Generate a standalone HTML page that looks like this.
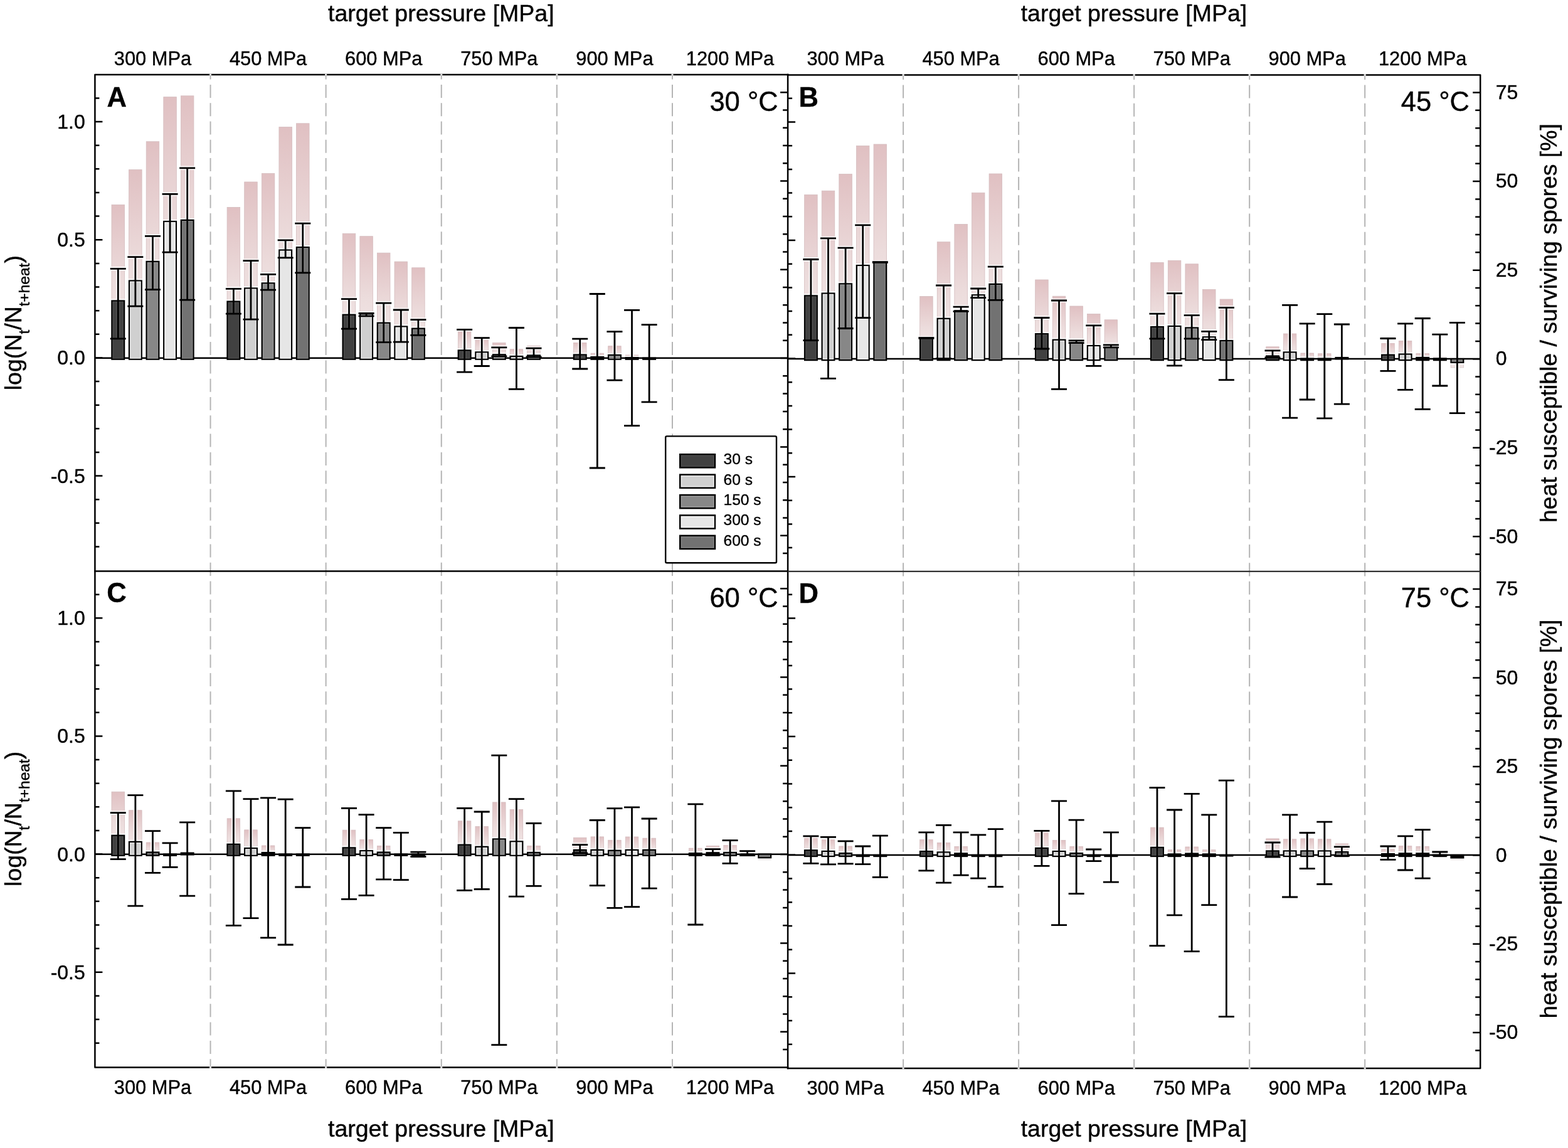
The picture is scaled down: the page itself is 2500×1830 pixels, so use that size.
<!DOCTYPE html>
<html><head><meta charset="utf-8"><title>figure</title><style>html,body{margin:0;padding:0;background:#fff;}svg{display:block;}</style></head><body>
<svg width="2500" height="1830" viewBox="0 0 2500 1830" font-family="'Liberation Sans', Arial, Helvetica, sans-serif">
<defs><linearGradient id="pk" x1="0" y1="0" x2="0" y2="1"><stop offset="0" stop-color="#e0c0c2"/><stop offset="0.5" stop-color="#ecdcdc"/><stop offset="1" stop-color="#f5eded"/></linearGradient><linearGradient id="pkn" x1="0" y1="0" x2="0" y2="1"><stop offset="0" stop-color="#f8f0f0"/><stop offset="1" stop-color="#f0e4e4"/></linearGradient></defs>
<rect x="0" y="0" width="2500" height="1830" fill="#fff"/>
<line x1="335.52" y1="119.1" x2="335.52" y2="910.6" stroke="#b4b4b4" stroke-width="2" stroke-dasharray="21 8.3" stroke-dashoffset="13.5"/>
<line x1="519.63" y1="119.1" x2="519.63" y2="910.6" stroke="#b4b4b4" stroke-width="2" stroke-dasharray="21 8.3" stroke-dashoffset="13.5"/>
<line x1="703.75" y1="119.1" x2="703.75" y2="910.6" stroke="#b4b4b4" stroke-width="2" stroke-dasharray="21 8.3" stroke-dashoffset="13.5"/>
<line x1="887.87" y1="119.1" x2="887.87" y2="910.6" stroke="#b4b4b4" stroke-width="2" stroke-dasharray="21 8.3" stroke-dashoffset="13.5"/>
<line x1="1071.98" y1="119.1" x2="1071.98" y2="910.6" stroke="#b4b4b4" stroke-width="2" stroke-dasharray="21 8.3" stroke-dashoffset="13.5"/>
<line x1="1440.12" y1="119.6" x2="1440.12" y2="910.9" stroke="#b4b4b4" stroke-width="2" stroke-dasharray="21 8.3" stroke-dashoffset="13.5"/>
<line x1="1624.13" y1="119.6" x2="1624.13" y2="910.9" stroke="#b4b4b4" stroke-width="2" stroke-dasharray="21 8.3" stroke-dashoffset="13.5"/>
<line x1="1808.15" y1="119.6" x2="1808.15" y2="910.9" stroke="#b4b4b4" stroke-width="2" stroke-dasharray="21 8.3" stroke-dashoffset="13.5"/>
<line x1="1992.17" y1="119.6" x2="1992.17" y2="910.9" stroke="#b4b4b4" stroke-width="2" stroke-dasharray="21 8.3" stroke-dashoffset="13.5"/>
<line x1="2176.18" y1="119.6" x2="2176.18" y2="910.9" stroke="#b4b4b4" stroke-width="2" stroke-dasharray="21 8.3" stroke-dashoffset="13.5"/>
<line x1="335.52" y1="910.6" x2="335.52" y2="1701.5" stroke="#b4b4b4" stroke-width="2" stroke-dasharray="21 8.3" stroke-dashoffset="13.5"/>
<line x1="519.63" y1="910.6" x2="519.63" y2="1701.5" stroke="#b4b4b4" stroke-width="2" stroke-dasharray="21 8.3" stroke-dashoffset="13.5"/>
<line x1="703.75" y1="910.6" x2="703.75" y2="1701.5" stroke="#b4b4b4" stroke-width="2" stroke-dasharray="21 8.3" stroke-dashoffset="13.5"/>
<line x1="887.87" y1="910.6" x2="887.87" y2="1701.5" stroke="#b4b4b4" stroke-width="2" stroke-dasharray="21 8.3" stroke-dashoffset="13.5"/>
<line x1="1071.98" y1="910.6" x2="1071.98" y2="1701.5" stroke="#b4b4b4" stroke-width="2" stroke-dasharray="21 8.3" stroke-dashoffset="13.5"/>
<line x1="1440.12" y1="910.9" x2="1440.12" y2="1702.9" stroke="#b4b4b4" stroke-width="2" stroke-dasharray="21 8.3" stroke-dashoffset="13.5"/>
<line x1="1624.13" y1="910.9" x2="1624.13" y2="1702.9" stroke="#b4b4b4" stroke-width="2" stroke-dasharray="21 8.3" stroke-dashoffset="13.5"/>
<line x1="1808.15" y1="910.9" x2="1808.15" y2="1702.9" stroke="#b4b4b4" stroke-width="2" stroke-dasharray="21 8.3" stroke-dashoffset="13.5"/>
<line x1="1992.17" y1="910.9" x2="1992.17" y2="1702.9" stroke="#b4b4b4" stroke-width="2" stroke-dasharray="21 8.3" stroke-dashoffset="13.5"/>
<line x1="2176.18" y1="910.9" x2="2176.18" y2="1702.9" stroke="#b4b4b4" stroke-width="2" stroke-dasharray="21 8.3" stroke-dashoffset="13.5"/>
<g><rect x="178.01" y="326.4" width="20.5" height="244.3" fill="url(#pk)" stroke="#d4bcbe" stroke-width="0.8"/><rect x="205.61" y="270.5" width="20.5" height="300.2" fill="url(#pk)" stroke="#d4bcbe" stroke-width="0.8"/><rect x="233.21" y="225.7" width="20.5" height="345" fill="url(#pk)" stroke="#d4bcbe" stroke-width="0.8"/><rect x="260.81" y="154.6" width="20.5" height="416.1" fill="url(#pk)" stroke="#d4bcbe" stroke-width="0.8"/><rect x="288.41" y="152.8" width="20.5" height="417.9" fill="url(#pk)" stroke="#d4bcbe" stroke-width="0.8"/><rect x="362.12" y="330.4" width="20.5" height="240.3" fill="url(#pk)" stroke="#d4bcbe" stroke-width="0.8"/><rect x="389.72" y="290" width="20.5" height="280.7" fill="url(#pk)" stroke="#d4bcbe" stroke-width="0.8"/><rect x="417.32" y="276.6" width="20.5" height="294.1" fill="url(#pk)" stroke="#d4bcbe" stroke-width="0.8"/><rect x="444.92" y="202.4" width="20.5" height="368.3" fill="url(#pk)" stroke="#d4bcbe" stroke-width="0.8"/><rect x="472.52" y="196.8" width="20.5" height="373.9" fill="url(#pk)" stroke="#d4bcbe" stroke-width="0.8"/><rect x="546.24" y="372.3" width="20.5" height="198.4" fill="url(#pk)" stroke="#d4bcbe" stroke-width="0.8"/><rect x="573.84" y="376.7" width="20.5" height="194" fill="url(#pk)" stroke="#d4bcbe" stroke-width="0.8"/><rect x="601.44" y="403.2" width="20.5" height="167.5" fill="url(#pk)" stroke="#d4bcbe" stroke-width="0.8"/><rect x="629.04" y="417.1" width="20.5" height="153.6" fill="url(#pk)" stroke="#d4bcbe" stroke-width="0.8"/><rect x="656.64" y="426.8" width="20.5" height="143.9" fill="url(#pk)" stroke="#d4bcbe" stroke-width="0.8"/><rect x="730.36" y="528.5" width="20.5" height="42.2" fill="url(#pk)" stroke="#d4bcbe" stroke-width="0.8"/><rect x="757.96" y="539.8" width="20.5" height="30.9" fill="url(#pk)" stroke="#d4bcbe" stroke-width="0.8"/><rect x="785.56" y="546.6" width="20.5" height="24.1" fill="url(#pk)" stroke="#d4bcbe" stroke-width="0.8"/><rect x="813.16" y="556.8" width="20.5" height="13.9" fill="url(#pk)" stroke="#d4bcbe" stroke-width="0.8"/><rect x="840.76" y="551.3" width="20.5" height="19.4" fill="url(#pk)" stroke="#d4bcbe" stroke-width="0.8"/><rect x="914.47" y="546.4" width="20.5" height="24.3" fill="url(#pk)" stroke="#d4bcbe" stroke-width="0.8"/><rect x="942.07" y="563.2" width="20.5" height="7.5" fill="url(#pk)" stroke="#d4bcbe" stroke-width="0.8"/><rect x="969.67" y="551.7" width="20.5" height="19" fill="url(#pk)" stroke="#d4bcbe" stroke-width="0.8"/><rect x="997.27" y="566" width="20.5" height="4.7" fill="url(#pk)" stroke="#d4bcbe" stroke-width="0.8"/></g>
<g><rect x="178.41" y="479.5" width="19.7" height="93.2" fill="none" stroke="#fff" stroke-width="5.9"/><path d="M175.76 428.3H200.76M188.26 428.3V539.9M175.76 539.9H200.76" stroke="#fff" stroke-opacity="0.85" stroke-width="6.4" fill="none"/><rect x="206.01" y="447.5" width="19.7" height="125.2" fill="none" stroke="#fff" stroke-width="5.9"/><path d="M203.36 409.7H228.36M215.86 409.7V488.2M203.36 488.2H228.36" stroke="#fff" stroke-opacity="0.85" stroke-width="6.4" fill="none"/><rect x="233.61" y="416.9" width="19.7" height="155.8" fill="none" stroke="#fff" stroke-width="5.9"/><path d="M230.96 376.4H255.96M243.46 376.4V461.6M230.96 461.6H255.96" stroke="#fff" stroke-opacity="0.85" stroke-width="6.4" fill="none"/><rect x="261.21" y="353" width="19.7" height="219.7" fill="none" stroke="#fff" stroke-width="5.9"/><path d="M258.56 309.3H283.56M271.06 309.3V402.2M258.56 402.2H283.56" stroke="#fff" stroke-opacity="0.85" stroke-width="6.4" fill="none"/><rect x="288.81" y="350.9" width="19.7" height="221.8" fill="none" stroke="#fff" stroke-width="5.9"/><path d="M286.16 267.8H311.16M298.66 267.8V478.1M286.16 478.1H311.16" stroke="#fff" stroke-opacity="0.85" stroke-width="6.4" fill="none"/><rect x="362.52" y="480.6" width="19.7" height="92.1" fill="none" stroke="#fff" stroke-width="5.9"/><path d="M359.87 460.3H384.87M372.37 460.3V500.2M359.87 500.2H384.87" stroke="#fff" stroke-opacity="0.85" stroke-width="6.4" fill="none"/><rect x="390.12" y="459.5" width="19.7" height="113.2" fill="none" stroke="#fff" stroke-width="5.9"/><path d="M387.47 415.6H412.47M399.97 415.6V509.1M387.47 509.1H412.47" stroke="#fff" stroke-opacity="0.85" stroke-width="6.4" fill="none"/><rect x="417.72" y="451.4" width="19.7" height="121.3" fill="none" stroke="#fff" stroke-width="5.9"/><path d="M415.07 437.4H440.07M427.57 437.4V462.1M415.07 462.1H440.07" stroke="#fff" stroke-opacity="0.85" stroke-width="6.4" fill="none"/><rect x="445.32" y="398.6" width="19.7" height="174.1" fill="none" stroke="#fff" stroke-width="5.9"/><path d="M442.67 382.8H467.67M455.17 382.8V410.8M442.67 410.8H467.67" stroke="#fff" stroke-opacity="0.85" stroke-width="6.4" fill="none"/><rect x="472.92" y="394.2" width="19.7" height="178.5" fill="none" stroke="#fff" stroke-width="5.9"/><path d="M470.27 356.1H495.27M482.77 356.1V434.9M470.27 434.9H495.27" stroke="#fff" stroke-opacity="0.85" stroke-width="6.4" fill="none"/><rect x="546.64" y="501.7" width="19.7" height="71" fill="none" stroke="#fff" stroke-width="5.9"/><path d="M543.99 476.7H568.99M556.49 476.7V524.2M543.99 524.2H568.99" stroke="#fff" stroke-opacity="0.85" stroke-width="6.4" fill="none"/><rect x="574.24" y="500.6" width="19.7" height="72.1" fill="none" stroke="#fff" stroke-width="5.9"/><path d="M571.59 499.5H596.59M584.09 499.5V503.8M571.59 503.8H596.59" stroke="#fff" stroke-opacity="0.85" stroke-width="6.4" fill="none"/><rect x="601.84" y="514.7" width="19.7" height="58" fill="none" stroke="#fff" stroke-width="5.9"/><path d="M599.19 483.2H624.19M611.69 483.2V545.7M599.19 545.7H624.19" stroke="#fff" stroke-opacity="0.85" stroke-width="6.4" fill="none"/><rect x="629.44" y="520.5" width="19.7" height="52.2" fill="none" stroke="#fff" stroke-width="5.9"/><path d="M626.79 494H651.79M639.29 494V545.2M626.79 545.2H651.79" stroke="#fff" stroke-opacity="0.85" stroke-width="6.4" fill="none"/><rect x="657.04" y="523.7" width="19.7" height="49" fill="none" stroke="#fff" stroke-width="5.9"/><path d="M654.39 509.6H679.39M666.89 509.6V534.3M654.39 534.3H679.39" stroke="#fff" stroke-opacity="0.85" stroke-width="6.4" fill="none"/><rect x="730.76" y="558.5" width="19.7" height="14.2" fill="none" stroke="#fff" stroke-width="5.9"/><path d="M728.11 525.4H753.11M740.61 525.4V593.2M728.11 593.2H753.11" stroke="#fff" stroke-opacity="0.85" stroke-width="6.4" fill="none"/><rect x="758.36" y="561.4" width="19.7" height="11.3" fill="none" stroke="#fff" stroke-width="5.9"/><path d="M755.71 538.6H780.71M768.21 538.6V583.5M755.71 583.5H780.71" stroke="#fff" stroke-opacity="0.85" stroke-width="6.4" fill="none"/><rect x="785.96" y="565.3" width="19.7" height="7.4" fill="none" stroke="#fff" stroke-width="5.9"/><path d="M783.31 553.8H808.31M795.81 553.8V567.8M783.31 567.8H808.31" stroke="#fff" stroke-opacity="0.85" stroke-width="6.4" fill="none"/><rect x="813.56" y="568" width="19.7" height="4.7" fill="none" stroke="#fff" stroke-width="5.9"/><path d="M810.91 522.5H835.91M823.41 522.5V620.3M810.91 620.3H835.91" stroke="#fff" stroke-opacity="0.85" stroke-width="6.4" fill="none"/><rect x="841.16" y="566.5" width="19.7" height="6.2" fill="none" stroke="#fff" stroke-width="5.9"/><path d="M838.51 555.1H863.51M851.01 555.1V569M838.51 569H863.51" stroke="#fff" stroke-opacity="0.85" stroke-width="6.4" fill="none"/><rect x="914.87" y="565.5" width="19.7" height="7.2" fill="none" stroke="#fff" stroke-width="5.9"/><path d="M912.22 540.2H937.22M924.72 540.2V588M912.22 588H937.22" stroke="#fff" stroke-opacity="0.85" stroke-width="6.4" fill="none"/><rect x="942.47" y="569" width="19.7" height="3.7" fill="none" stroke="#fff" stroke-width="5.9"/><path d="M939.82 468.5H964.82M952.32 468.5V746M939.82 746H964.82" stroke="#fff" stroke-opacity="0.85" stroke-width="6.4" fill="none"/><rect x="970.07" y="566" width="19.7" height="6.7" fill="none" stroke="#fff" stroke-width="5.9"/><path d="M967.42 528.7H992.42M979.92 528.7V606.2M967.42 606.2H992.42" stroke="#fff" stroke-opacity="0.85" stroke-width="6.4" fill="none"/><rect x="997.67" y="570.2" width="19.7" height="2.5" fill="none" stroke="#fff" stroke-width="5.9"/><path d="M995.02 494.3H1020.02M1007.52 494.3V678.6M995.02 678.6H1020.02" stroke="#fff" stroke-opacity="0.85" stroke-width="6.4" fill="none"/><rect x="1025.27" y="570.7" width="19.7" height="2" fill="none" stroke="#fff" stroke-width="5.9"/><path d="M1022.62 517.7H1047.62M1035.12 517.7V640.9M1022.62 640.9H1047.62" stroke="#fff" stroke-opacity="0.85" stroke-width="6.4" fill="none"/></g>
<line x1="151.4" y1="570.7" x2="1256.1" y2="570.7" stroke="#000" stroke-width="2.5"/>
<g><rect x="178.41" y="479.5" width="19.7" height="93.2" fill="#414141" stroke="#000" stroke-width="2.3"/><rect x="180.16" y="481.25" width="16.2" height="89.7" fill="none" stroke="#4d4d4d" stroke-width="1.1"/><rect x="206.01" y="447.5" width="19.7" height="125.2" fill="#d0d0d0" stroke="#000" stroke-width="2.3"/><rect x="207.76" y="449.25" width="16.2" height="121.7" fill="none" stroke="#ececec" stroke-width="1.1"/><rect x="233.61" y="416.9" width="19.7" height="155.8" fill="#878787" stroke="#000" stroke-width="2.3"/><rect x="235.36" y="418.65" width="16.2" height="152.3" fill="none" stroke="#9a9a9a" stroke-width="1.1"/><rect x="261.21" y="353" width="19.7" height="219.7" fill="#e6e6e6" stroke="#000" stroke-width="2.3"/><rect x="262.96" y="354.75" width="16.2" height="216.2" fill="none" stroke="#f6f6f6" stroke-width="1.1"/><rect x="288.81" y="350.9" width="19.7" height="221.8" fill="#727272" stroke="#000" stroke-width="2.3"/><rect x="290.56" y="352.65" width="16.2" height="218.3" fill="none" stroke="#838383" stroke-width="1.1"/><rect x="362.52" y="480.6" width="19.7" height="92.1" fill="#414141" stroke="#000" stroke-width="2.3"/><rect x="364.27" y="482.35" width="16.2" height="88.6" fill="none" stroke="#4d4d4d" stroke-width="1.1"/><rect x="390.12" y="459.5" width="19.7" height="113.2" fill="#d0d0d0" stroke="#000" stroke-width="2.3"/><rect x="391.87" y="461.25" width="16.2" height="109.7" fill="none" stroke="#ececec" stroke-width="1.1"/><rect x="417.72" y="451.4" width="19.7" height="121.3" fill="#878787" stroke="#000" stroke-width="2.3"/><rect x="419.47" y="453.15" width="16.2" height="117.8" fill="none" stroke="#9a9a9a" stroke-width="1.1"/><rect x="445.32" y="398.6" width="19.7" height="174.1" fill="#e6e6e6" stroke="#000" stroke-width="2.3"/><rect x="447.07" y="400.35" width="16.2" height="170.6" fill="none" stroke="#f6f6f6" stroke-width="1.1"/><rect x="472.92" y="394.2" width="19.7" height="178.5" fill="#727272" stroke="#000" stroke-width="2.3"/><rect x="474.67" y="395.95" width="16.2" height="175" fill="none" stroke="#838383" stroke-width="1.1"/><rect x="546.64" y="501.7" width="19.7" height="71" fill="#414141" stroke="#000" stroke-width="2.3"/><rect x="548.39" y="503.45" width="16.2" height="67.5" fill="none" stroke="#4d4d4d" stroke-width="1.1"/><rect x="574.24" y="500.6" width="19.7" height="72.1" fill="#d0d0d0" stroke="#000" stroke-width="2.3"/><rect x="575.99" y="502.35" width="16.2" height="68.6" fill="none" stroke="#ececec" stroke-width="1.1"/><rect x="601.84" y="514.7" width="19.7" height="58" fill="#878787" stroke="#000" stroke-width="2.3"/><rect x="603.59" y="516.45" width="16.2" height="54.5" fill="none" stroke="#9a9a9a" stroke-width="1.1"/><rect x="629.44" y="520.5" width="19.7" height="52.2" fill="#e6e6e6" stroke="#000" stroke-width="2.3"/><rect x="631.19" y="522.25" width="16.2" height="48.7" fill="none" stroke="#f6f6f6" stroke-width="1.1"/><rect x="657.04" y="523.7" width="19.7" height="49" fill="#727272" stroke="#000" stroke-width="2.3"/><rect x="658.79" y="525.45" width="16.2" height="45.5" fill="none" stroke="#838383" stroke-width="1.1"/><rect x="730.76" y="558.5" width="19.7" height="14.2" fill="#414141" stroke="#000" stroke-width="2.3"/><rect x="732.51" y="560.25" width="16.2" height="10.7" fill="none" stroke="#4d4d4d" stroke-width="1.1"/><rect x="758.36" y="561.4" width="19.7" height="11.3" fill="#d0d0d0" stroke="#000" stroke-width="2.3"/><rect x="760.11" y="563.15" width="16.2" height="7.8" fill="none" stroke="#ececec" stroke-width="1.1"/><rect x="785.96" y="565.3" width="19.7" height="7.4" fill="#878787" stroke="#000" stroke-width="2.3"/><rect x="787.71" y="567.05" width="16.2" height="3.9" fill="none" stroke="#9a9a9a" stroke-width="1.1"/><rect x="813.56" y="568" width="19.7" height="4.7" fill="#000" stroke="#000" stroke-width="2.3"/><rect x="815.31" y="569.75" width="16.2" height="1.2" fill="none" stroke="#f6f6f6" stroke-width="1.1"/><rect x="841.16" y="566.5" width="19.7" height="6.2" fill="#727272" stroke="#000" stroke-width="2.3"/><rect x="842.91" y="568.25" width="16.2" height="2.7" fill="none" stroke="#838383" stroke-width="1.1"/><rect x="914.87" y="565.5" width="19.7" height="7.2" fill="#414141" stroke="#000" stroke-width="2.3"/><rect x="916.62" y="567.25" width="16.2" height="3.7" fill="none" stroke="#4d4d4d" stroke-width="1.1"/><rect x="942.47" y="569" width="19.7" height="3.7" fill="#000" stroke="#000" stroke-width="2.3"/><rect x="970.07" y="566" width="19.7" height="6.7" fill="#878787" stroke="#000" stroke-width="2.3"/><rect x="971.82" y="567.75" width="16.2" height="3.2" fill="none" stroke="#9a9a9a" stroke-width="1.1"/><rect x="997.67" y="570.2" width="19.7" height="2.5" fill="#000" stroke="#000" stroke-width="2.3"/><rect x="1025.27" y="570.7" width="19.7" height="2" fill="#000" stroke="#000" stroke-width="2.3"/></g>
<g><path d="M188.26 480.95V539.9" stroke="#fff" stroke-opacity="0.08" stroke-width="6.4" fill="none"/><path d="M215.86 448.95V488.2" stroke="#fff" stroke-opacity="0.08" stroke-width="6.4" fill="none"/><path d="M243.46 418.35V461.6" stroke="#fff" stroke-opacity="0.08" stroke-width="6.4" fill="none"/><path d="M271.06 354.45V402.2" stroke="#fff" stroke-opacity="0.08" stroke-width="6.4" fill="none"/><path d="M298.66 352.35V478.1" stroke="#fff" stroke-opacity="0.08" stroke-width="6.4" fill="none"/><path d="M372.37 482.05V500.2" stroke="#fff" stroke-opacity="0.08" stroke-width="6.4" fill="none"/><path d="M399.97 460.95V509.1" stroke="#fff" stroke-opacity="0.08" stroke-width="6.4" fill="none"/><path d="M427.57 452.85V462.1" stroke="#fff" stroke-opacity="0.08" stroke-width="6.4" fill="none"/><path d="M455.17 400.05V410.8" stroke="#fff" stroke-opacity="0.08" stroke-width="6.4" fill="none"/><path d="M482.77 395.65V434.9" stroke="#fff" stroke-opacity="0.08" stroke-width="6.4" fill="none"/><path d="M556.49 503.15V524.2" stroke="#fff" stroke-opacity="0.08" stroke-width="6.4" fill="none"/><path d="M584.09 502.05V503.8" stroke="#fff" stroke-opacity="0.08" stroke-width="6.4" fill="none"/><path d="M611.69 516.15V545.7" stroke="#fff" stroke-opacity="0.08" stroke-width="6.4" fill="none"/><path d="M639.29 521.95V545.2" stroke="#fff" stroke-opacity="0.08" stroke-width="6.4" fill="none"/><path d="M666.89 525.15V534.3" stroke="#fff" stroke-opacity="0.08" stroke-width="6.4" fill="none"/><path d="M740.61 559.95V571.25" stroke="#fff" stroke-opacity="0.08" stroke-width="6.4" fill="none"/><path d="M768.21 562.85V571.25" stroke="#fff" stroke-opacity="0.08" stroke-width="6.4" fill="none"/><path d="M795.81 566.75V567.8" stroke="#fff" stroke-opacity="0.08" stroke-width="6.4" fill="none"/><path d="M823.41 569.45V571.25" stroke="#fff" stroke-opacity="0.08" stroke-width="6.4" fill="none"/><path d="M851.01 567.95V569" stroke="#fff" stroke-opacity="0.08" stroke-width="6.4" fill="none"/><path d="M924.72 566.95V571.25" stroke="#fff" stroke-opacity="0.08" stroke-width="6.4" fill="none"/><path d="M979.92 567.45V571.25" stroke="#fff" stroke-opacity="0.08" stroke-width="6.4" fill="none"/></g>
<g><path d="M175.76 428.3H200.76M188.26 428.3V539.9M175.76 539.9H200.76" stroke="#000" stroke-width="2.8" fill="none"/><path d="M203.36 409.7H228.36M215.86 409.7V488.2M203.36 488.2H228.36" stroke="#000" stroke-width="2.8" fill="none"/><path d="M230.96 376.4H255.96M243.46 376.4V461.6M230.96 461.6H255.96" stroke="#000" stroke-width="2.8" fill="none"/><path d="M258.56 309.3H283.56M271.06 309.3V402.2M258.56 402.2H283.56" stroke="#000" stroke-width="2.8" fill="none"/><path d="M286.16 267.8H311.16M298.66 267.8V478.1M286.16 478.1H311.16" stroke="#000" stroke-width="2.8" fill="none"/><path d="M359.87 460.3H384.87M372.37 460.3V500.2M359.87 500.2H384.87" stroke="#000" stroke-width="2.8" fill="none"/><path d="M387.47 415.6H412.47M399.97 415.6V509.1M387.47 509.1H412.47" stroke="#000" stroke-width="2.8" fill="none"/><path d="M415.07 437.4H440.07M427.57 437.4V462.1M415.07 462.1H440.07" stroke="#000" stroke-width="2.8" fill="none"/><path d="M442.67 382.8H467.67M455.17 382.8V410.8M442.67 410.8H467.67" stroke="#000" stroke-width="2.8" fill="none"/><path d="M470.27 356.1H495.27M482.77 356.1V434.9M470.27 434.9H495.27" stroke="#000" stroke-width="2.8" fill="none"/><path d="M543.99 476.7H568.99M556.49 476.7V524.2M543.99 524.2H568.99" stroke="#000" stroke-width="2.8" fill="none"/><path d="M571.59 499.5H596.59M584.09 499.5V503.8M571.59 503.8H596.59" stroke="#000" stroke-width="2.8" fill="none"/><path d="M599.19 483.2H624.19M611.69 483.2V545.7M599.19 545.7H624.19" stroke="#000" stroke-width="2.8" fill="none"/><path d="M626.79 494H651.79M639.29 494V545.2M626.79 545.2H651.79" stroke="#000" stroke-width="2.8" fill="none"/><path d="M654.39 509.6H679.39M666.89 509.6V534.3M654.39 534.3H679.39" stroke="#000" stroke-width="2.8" fill="none"/><path d="M728.11 525.4H753.11M740.61 525.4V593.2M728.11 593.2H753.11" stroke="#000" stroke-width="2.8" fill="none"/><path d="M755.71 538.6H780.71M768.21 538.6V583.5M755.71 583.5H780.71" stroke="#000" stroke-width="2.8" fill="none"/><path d="M783.31 553.8H808.31M795.81 553.8V567.8M783.31 567.8H808.31" stroke="#000" stroke-width="2.8" fill="none"/><path d="M810.91 522.5H835.91M823.41 522.5V620.3M810.91 620.3H835.91" stroke="#000" stroke-width="2.8" fill="none"/><path d="M838.51 555.1H863.51M851.01 555.1V569M838.51 569H863.51" stroke="#000" stroke-width="2.8" fill="none"/><path d="M912.22 540.2H937.22M924.72 540.2V588M912.22 588H937.22" stroke="#000" stroke-width="2.8" fill="none"/><path d="M939.82 468.5H964.82M952.32 468.5V746M939.82 746H964.82" stroke="#000" stroke-width="2.8" fill="none"/><path d="M967.42 528.7H992.42M979.92 528.7V606.2M967.42 606.2H992.42" stroke="#000" stroke-width="2.8" fill="none"/><path d="M995.02 494.3H1020.02M1007.52 494.3V678.6M995.02 678.6H1020.02" stroke="#000" stroke-width="2.8" fill="none"/><path d="M1022.62 517.7H1047.62M1035.12 517.7V640.9M1022.62 640.9H1047.62" stroke="#000" stroke-width="2.8" fill="none"/></g>
<g><rect x="1282.66" y="310.5" width="20.5" height="261.6" fill="url(#pk)" stroke="#d4bcbe" stroke-width="0.8"/><rect x="1310.26" y="304.2" width="20.5" height="267.9" fill="url(#pk)" stroke="#d4bcbe" stroke-width="0.8"/><rect x="1337.86" y="277.5" width="20.5" height="294.6" fill="url(#pk)" stroke="#d4bcbe" stroke-width="0.8"/><rect x="1365.46" y="232.5" width="20.5" height="339.6" fill="url(#pk)" stroke="#d4bcbe" stroke-width="0.8"/><rect x="1393.06" y="230" width="20.5" height="342.1" fill="url(#pk)" stroke="#d4bcbe" stroke-width="0.8"/><rect x="1466.67" y="472.5" width="20.5" height="99.6" fill="url(#pk)" stroke="#d4bcbe" stroke-width="0.8"/><rect x="1494.28" y="385.7" width="20.5" height="186.4" fill="url(#pk)" stroke="#d4bcbe" stroke-width="0.8"/><rect x="1521.88" y="357.4" width="20.5" height="214.7" fill="url(#pk)" stroke="#d4bcbe" stroke-width="0.8"/><rect x="1549.47" y="307.3" width="20.5" height="264.8" fill="url(#pk)" stroke="#d4bcbe" stroke-width="0.8"/><rect x="1577.08" y="277" width="20.5" height="295.1" fill="url(#pk)" stroke="#d4bcbe" stroke-width="0.8"/><rect x="1650.69" y="446" width="20.5" height="126.1" fill="url(#pk)" stroke="#d4bcbe" stroke-width="0.8"/><rect x="1678.29" y="472.2" width="20.5" height="99.9" fill="url(#pk)" stroke="#d4bcbe" stroke-width="0.8"/><rect x="1705.89" y="488" width="20.5" height="84.1" fill="url(#pk)" stroke="#d4bcbe" stroke-width="0.8"/><rect x="1733.49" y="500.5" width="20.5" height="71.6" fill="url(#pk)" stroke="#d4bcbe" stroke-width="0.8"/><rect x="1761.09" y="509.8" width="20.5" height="62.3" fill="url(#pk)" stroke="#d4bcbe" stroke-width="0.8"/><rect x="1834.71" y="418.6" width="20.5" height="153.5" fill="url(#pk)" stroke="#d4bcbe" stroke-width="0.8"/><rect x="1862.31" y="415.3" width="20.5" height="156.8" fill="url(#pk)" stroke="#d4bcbe" stroke-width="0.8"/><rect x="1889.91" y="420.8" width="20.5" height="151.3" fill="url(#pk)" stroke="#d4bcbe" stroke-width="0.8"/><rect x="1917.51" y="461.5" width="20.5" height="110.6" fill="url(#pk)" stroke="#d4bcbe" stroke-width="0.8"/><rect x="1945.11" y="477" width="20.5" height="95.1" fill="url(#pk)" stroke="#d4bcbe" stroke-width="0.8"/><rect x="2018.72" y="552.8" width="20.5" height="19.3" fill="url(#pk)" stroke="#d4bcbe" stroke-width="0.8"/><rect x="2046.32" y="532" width="20.5" height="40.1" fill="url(#pk)" stroke="#d4bcbe" stroke-width="0.8"/><rect x="2073.92" y="563" width="20.5" height="9.1" fill="url(#pk)" stroke="#d4bcbe" stroke-width="0.8"/><rect x="2101.52" y="563.8" width="20.5" height="8.3" fill="url(#pk)" stroke="#d4bcbe" stroke-width="0.8"/><rect x="2202.74" y="547.3" width="20.5" height="24.8" fill="url(#pk)" stroke="#d4bcbe" stroke-width="0.8"/><rect x="2230.34" y="543.4" width="20.5" height="28.7" fill="url(#pk)" stroke="#d4bcbe" stroke-width="0.8"/><rect x="2257.94" y="563.5" width="20.5" height="8.6" fill="url(#pk)" stroke="#d4bcbe" stroke-width="0.8"/><rect x="2285.54" y="568.6" width="20.5" height="3.5" fill="url(#pk)" stroke="#d4bcbe" stroke-width="0.8"/><rect x="2313.14" y="572.1" width="20.5" height="13.8" fill="url(#pkn)" stroke="#d6c8c8" stroke-width="0.8"/></g>
<g><rect x="1283.06" y="471.4" width="19.7" height="102.7" fill="none" stroke="#fff" stroke-width="5.9"/><path d="M1280.41 413.5H1305.41M1292.91 413.5V542.6M1280.41 542.6H1305.41" stroke="#fff" stroke-opacity="0.85" stroke-width="6.4" fill="none"/><rect x="1310.66" y="467.6" width="19.7" height="106.5" fill="none" stroke="#fff" stroke-width="5.9"/><path d="M1308.01 379.9H1333.01M1320.51 379.9V603.3M1308.01 603.3H1333.01" stroke="#fff" stroke-opacity="0.85" stroke-width="6.4" fill="none"/><rect x="1338.26" y="452.4" width="19.7" height="121.7" fill="none" stroke="#fff" stroke-width="5.9"/><path d="M1335.61 395.2H1360.61M1348.11 395.2V523.5M1335.61 523.5H1360.61" stroke="#fff" stroke-opacity="0.85" stroke-width="6.4" fill="none"/><rect x="1365.86" y="423.1" width="19.7" height="151" fill="none" stroke="#fff" stroke-width="5.9"/><path d="M1363.21 358.8H1388.21M1375.71 358.8V506.7M1363.21 506.7H1388.21" stroke="#fff" stroke-opacity="0.85" stroke-width="6.4" fill="none"/><rect x="1393.46" y="418" width="19.7" height="156.1" fill="none" stroke="#fff" stroke-width="5.9"/><rect x="1467.08" y="538.9" width="19.7" height="35.2" fill="none" stroke="#fff" stroke-width="5.9"/><rect x="1494.68" y="507.8" width="19.7" height="66.3" fill="none" stroke="#fff" stroke-width="5.9"/><path d="M1492.03 455H1517.03M1504.53 455V571.6M1492.03 571.6H1517.03" stroke="#fff" stroke-opacity="0.85" stroke-width="6.4" fill="none"/><rect x="1522.28" y="495.3" width="19.7" height="78.8" fill="none" stroke="#fff" stroke-width="5.9"/><path d="M1519.62 489.2H1544.62M1532.12 489.2V496.4M1519.62 496.4H1544.62" stroke="#fff" stroke-opacity="0.85" stroke-width="6.4" fill="none"/><rect x="1549.88" y="470.3" width="19.7" height="103.8" fill="none" stroke="#fff" stroke-width="5.9"/><path d="M1547.22 460H1572.22M1559.72 460V474.6M1547.22 474.6H1572.22" stroke="#fff" stroke-opacity="0.85" stroke-width="6.4" fill="none"/><rect x="1577.48" y="452.9" width="19.7" height="121.2" fill="none" stroke="#fff" stroke-width="5.9"/><path d="M1574.83 425.2H1599.83M1587.33 425.2V478.3M1574.83 478.3H1599.83" stroke="#fff" stroke-opacity="0.85" stroke-width="6.4" fill="none"/><rect x="1651.09" y="532.2" width="19.7" height="41.9" fill="none" stroke="#fff" stroke-width="5.9"/><path d="M1648.44 506.5H1673.44M1660.94 506.5V556M1648.44 556H1673.44" stroke="#fff" stroke-opacity="0.85" stroke-width="6.4" fill="none"/><rect x="1678.69" y="541.7" width="19.7" height="32.4" fill="none" stroke="#fff" stroke-width="5.9"/><path d="M1676.04 479H1701.04M1688.54 479V620.4M1676.04 620.4H1701.04" stroke="#fff" stroke-opacity="0.85" stroke-width="6.4" fill="none"/><rect x="1706.29" y="546.6" width="19.7" height="27.5" fill="none" stroke="#fff" stroke-width="5.9"/><path d="M1703.64 542.8H1728.64M1716.14 542.8V546.6M1703.64 546.6H1728.64" stroke="#fff" stroke-opacity="0.85" stroke-width="6.4" fill="none"/><rect x="1733.89" y="551.1" width="19.7" height="23" fill="none" stroke="#fff" stroke-width="5.9"/><path d="M1731.24 518.8H1756.24M1743.74 518.8V583.3M1731.24 583.3H1756.24" stroke="#fff" stroke-opacity="0.85" stroke-width="6.4" fill="none"/><rect x="1761.49" y="553.9" width="19.7" height="20.2" fill="none" stroke="#fff" stroke-width="5.9"/><path d="M1758.84 549.8H1783.84M1771.34 549.8V553.9M1758.84 553.9H1783.84" stroke="#fff" stroke-opacity="0.85" stroke-width="6.4" fill="none"/><rect x="1835.11" y="521" width="19.7" height="53.1" fill="none" stroke="#fff" stroke-width="5.9"/><path d="M1832.46 500.2H1857.46M1844.96 500.2V539.8M1832.46 539.8H1857.46" stroke="#fff" stroke-opacity="0.85" stroke-width="6.4" fill="none"/><rect x="1862.71" y="520" width="19.7" height="54.1" fill="none" stroke="#fff" stroke-width="5.9"/><path d="M1860.06 467.6H1885.06M1872.56 467.6V582.8M1860.06 582.8H1885.06" stroke="#fff" stroke-opacity="0.85" stroke-width="6.4" fill="none"/><rect x="1890.31" y="522.5" width="19.7" height="51.6" fill="none" stroke="#fff" stroke-width="5.9"/><path d="M1887.66 502.6H1912.66M1900.16 502.6V539.8M1887.66 539.8H1912.66" stroke="#fff" stroke-opacity="0.85" stroke-width="6.4" fill="none"/><rect x="1917.91" y="537.3" width="19.7" height="36.8" fill="none" stroke="#fff" stroke-width="5.9"/><path d="M1915.26 528.4H1940.26M1927.76 528.4V541.7M1915.26 541.7H1940.26" stroke="#fff" stroke-opacity="0.85" stroke-width="6.4" fill="none"/><rect x="1945.51" y="543.1" width="19.7" height="31" fill="none" stroke="#fff" stroke-width="5.9"/><path d="M1942.86 490.4H1967.86M1955.36 490.4V605.6M1942.86 605.6H1967.86" stroke="#fff" stroke-opacity="0.85" stroke-width="6.4" fill="none"/><rect x="2019.12" y="567.5" width="19.7" height="6.6" fill="none" stroke="#fff" stroke-width="5.9"/><path d="M2016.47 558.8H2041.47M2028.97 558.8V570M2016.47 570H2041.47" stroke="#fff" stroke-opacity="0.85" stroke-width="6.4" fill="none"/><rect x="2046.72" y="561.5" width="19.7" height="12.6" fill="none" stroke="#fff" stroke-width="5.9"/><path d="M2044.07 486.4H2069.07M2056.57 486.4V666.1M2044.07 666.1H2069.07" stroke="#fff" stroke-opacity="0.85" stroke-width="6.4" fill="none"/><rect x="2074.32" y="571.7" width="19.7" height="2.4" fill="none" stroke="#fff" stroke-width="5.9"/><path d="M2071.67 515.9H2096.67M2084.17 515.9V637M2071.67 637H2096.67" stroke="#fff" stroke-opacity="0.85" stroke-width="6.4" fill="none"/><rect x="2101.92" y="571.7" width="19.7" height="2.4" fill="none" stroke="#fff" stroke-width="5.9"/><path d="M2099.27 500.6H2124.27M2111.77 500.6V666.9M2099.27 666.9H2124.27" stroke="#fff" stroke-opacity="0.85" stroke-width="6.4" fill="none"/><rect x="2129.52" y="570.1" width="19.7" height="2.1" fill="none" stroke="#fff" stroke-width="5.9"/><path d="M2126.87 517H2151.87M2139.37 517V644.1M2126.87 644.1H2151.87" stroke="#fff" stroke-opacity="0.85" stroke-width="6.4" fill="none"/><rect x="2203.14" y="565.7" width="19.7" height="8.4" fill="none" stroke="#fff" stroke-width="5.9"/><path d="M2200.49 539.5H2225.49M2212.99 539.5V591.4M2200.49 591.4H2225.49" stroke="#fff" stroke-opacity="0.85" stroke-width="6.4" fill="none"/><rect x="2230.74" y="564.6" width="19.7" height="9.5" fill="none" stroke="#fff" stroke-width="5.9"/><path d="M2228.09 515.9H2253.09M2240.59 515.9V621.3M2228.09 621.3H2253.09" stroke="#fff" stroke-opacity="0.85" stroke-width="6.4" fill="none"/><rect x="2258.34" y="570" width="19.7" height="4.1" fill="none" stroke="#fff" stroke-width="5.9"/><path d="M2255.69 507.5H2280.69M2268.19 507.5V652.3M2255.69 652.3H2280.69" stroke="#fff" stroke-opacity="0.85" stroke-width="6.4" fill="none"/><rect x="2285.94" y="571.5" width="19.7" height="2.6" fill="none" stroke="#fff" stroke-width="5.9"/><path d="M2283.29 533.2H2308.29M2295.79 533.2V615M2283.29 615H2308.29" stroke="#fff" stroke-opacity="0.85" stroke-width="6.4" fill="none"/><rect x="2313.54" y="572.1" width="19.7" height="5.7" fill="none" stroke="#fff" stroke-width="5.9"/><path d="M2310.89 514.3H2335.89M2323.39 514.3V658.6M2310.89 658.6H2335.89" stroke="#fff" stroke-opacity="0.85" stroke-width="6.4" fill="none"/></g>
<line x1="1256.1" y1="572.1" x2="2360.2" y2="572.1" stroke="#000" stroke-width="2.5"/>
<g><rect x="1283.06" y="471.4" width="19.7" height="102.7" fill="#414141" stroke="#000" stroke-width="2.3"/><rect x="1284.81" y="473.15" width="16.2" height="99.2" fill="none" stroke="#4d4d4d" stroke-width="1.1"/><rect x="1310.66" y="467.6" width="19.7" height="106.5" fill="#d0d0d0" stroke="#000" stroke-width="2.3"/><rect x="1312.41" y="469.35" width="16.2" height="103" fill="none" stroke="#ececec" stroke-width="1.1"/><rect x="1338.26" y="452.4" width="19.7" height="121.7" fill="#878787" stroke="#000" stroke-width="2.3"/><rect x="1340.01" y="454.15" width="16.2" height="118.2" fill="none" stroke="#9a9a9a" stroke-width="1.1"/><rect x="1365.86" y="423.1" width="19.7" height="151" fill="#e6e6e6" stroke="#000" stroke-width="2.3"/><rect x="1367.61" y="424.85" width="16.2" height="147.5" fill="none" stroke="#f6f6f6" stroke-width="1.1"/><rect x="1393.46" y="418" width="19.7" height="156.1" fill="#727272" stroke="#000" stroke-width="2.3"/><rect x="1395.21" y="419.75" width="16.2" height="152.6" fill="none" stroke="#838383" stroke-width="1.1"/><rect x="1467.08" y="538.9" width="19.7" height="35.2" fill="#414141" stroke="#000" stroke-width="2.3"/><rect x="1468.83" y="540.65" width="16.2" height="31.7" fill="none" stroke="#4d4d4d" stroke-width="1.1"/><rect x="1494.68" y="507.8" width="19.7" height="66.3" fill="#d0d0d0" stroke="#000" stroke-width="2.3"/><rect x="1496.43" y="509.55" width="16.2" height="62.8" fill="none" stroke="#ececec" stroke-width="1.1"/><rect x="1522.28" y="495.3" width="19.7" height="78.8" fill="#878787" stroke="#000" stroke-width="2.3"/><rect x="1524.03" y="497.05" width="16.2" height="75.3" fill="none" stroke="#9a9a9a" stroke-width="1.1"/><rect x="1549.88" y="470.3" width="19.7" height="103.8" fill="#e6e6e6" stroke="#000" stroke-width="2.3"/><rect x="1551.62" y="472.05" width="16.2" height="100.3" fill="none" stroke="#f6f6f6" stroke-width="1.1"/><rect x="1577.48" y="452.9" width="19.7" height="121.2" fill="#727272" stroke="#000" stroke-width="2.3"/><rect x="1579.23" y="454.65" width="16.2" height="117.7" fill="none" stroke="#838383" stroke-width="1.1"/><rect x="1651.09" y="532.2" width="19.7" height="41.9" fill="#414141" stroke="#000" stroke-width="2.3"/><rect x="1652.84" y="533.95" width="16.2" height="38.4" fill="none" stroke="#4d4d4d" stroke-width="1.1"/><rect x="1678.69" y="541.7" width="19.7" height="32.4" fill="#d0d0d0" stroke="#000" stroke-width="2.3"/><rect x="1680.44" y="543.45" width="16.2" height="28.9" fill="none" stroke="#ececec" stroke-width="1.1"/><rect x="1706.29" y="546.6" width="19.7" height="27.5" fill="#878787" stroke="#000" stroke-width="2.3"/><rect x="1708.04" y="548.35" width="16.2" height="24" fill="none" stroke="#9a9a9a" stroke-width="1.1"/><rect x="1733.89" y="551.1" width="19.7" height="23" fill="#e6e6e6" stroke="#000" stroke-width="2.3"/><rect x="1735.64" y="552.85" width="16.2" height="19.5" fill="none" stroke="#f6f6f6" stroke-width="1.1"/><rect x="1761.49" y="553.9" width="19.7" height="20.2" fill="#727272" stroke="#000" stroke-width="2.3"/><rect x="1763.24" y="555.65" width="16.2" height="16.7" fill="none" stroke="#838383" stroke-width="1.1"/><rect x="1835.11" y="521" width="19.7" height="53.1" fill="#414141" stroke="#000" stroke-width="2.3"/><rect x="1836.86" y="522.75" width="16.2" height="49.6" fill="none" stroke="#4d4d4d" stroke-width="1.1"/><rect x="1862.71" y="520" width="19.7" height="54.1" fill="#d0d0d0" stroke="#000" stroke-width="2.3"/><rect x="1864.46" y="521.75" width="16.2" height="50.6" fill="none" stroke="#ececec" stroke-width="1.1"/><rect x="1890.31" y="522.5" width="19.7" height="51.6" fill="#878787" stroke="#000" stroke-width="2.3"/><rect x="1892.06" y="524.25" width="16.2" height="48.1" fill="none" stroke="#9a9a9a" stroke-width="1.1"/><rect x="1917.91" y="537.3" width="19.7" height="36.8" fill="#e6e6e6" stroke="#000" stroke-width="2.3"/><rect x="1919.66" y="539.05" width="16.2" height="33.3" fill="none" stroke="#f6f6f6" stroke-width="1.1"/><rect x="1945.51" y="543.1" width="19.7" height="31" fill="#727272" stroke="#000" stroke-width="2.3"/><rect x="1947.26" y="544.85" width="16.2" height="27.5" fill="none" stroke="#838383" stroke-width="1.1"/><rect x="2019.12" y="567.5" width="19.7" height="6.6" fill="#414141" stroke="#000" stroke-width="2.3"/><rect x="2020.87" y="569.25" width="16.2" height="3.1" fill="none" stroke="#4d4d4d" stroke-width="1.1"/><rect x="2046.72" y="561.5" width="19.7" height="12.6" fill="#d0d0d0" stroke="#000" stroke-width="2.3"/><rect x="2048.47" y="563.25" width="16.2" height="9.1" fill="none" stroke="#ececec" stroke-width="1.1"/><rect x="2074.32" y="571.7" width="19.7" height="2.4" fill="#000" stroke="#000" stroke-width="2.3"/><rect x="2101.92" y="571.7" width="19.7" height="2.4" fill="#000" stroke="#000" stroke-width="2.3"/><rect x="2129.52" y="570.1" width="19.7" height="2.1" fill="#000" stroke="#000" stroke-width="2.3"/><rect x="2203.14" y="565.7" width="19.7" height="8.4" fill="#414141" stroke="#000" stroke-width="2.3"/><rect x="2204.89" y="567.45" width="16.2" height="4.9" fill="none" stroke="#4d4d4d" stroke-width="1.1"/><rect x="2230.74" y="564.6" width="19.7" height="9.5" fill="#d0d0d0" stroke="#000" stroke-width="2.3"/><rect x="2232.49" y="566.35" width="16.2" height="6" fill="none" stroke="#ececec" stroke-width="1.1"/><rect x="2258.34" y="570" width="19.7" height="4.1" fill="#000" stroke="#000" stroke-width="2.3"/><rect x="2285.94" y="571.5" width="19.7" height="2.6" fill="#000" stroke="#000" stroke-width="2.3"/><rect x="2313.54" y="572.1" width="19.7" height="5.7" fill="#727272" stroke="#000" stroke-width="2.3"/><rect x="2315.29" y="573.85" width="16.2" height="2.2" fill="none" stroke="#838383" stroke-width="1.1"/></g>
<g><path d="M1292.91 472.85V542.6" stroke="#fff" stroke-opacity="0.08" stroke-width="6.4" fill="none"/><path d="M1320.51 469.05V572.65" stroke="#fff" stroke-opacity="0.08" stroke-width="6.4" fill="none"/><path d="M1348.11 453.85V523.5" stroke="#fff" stroke-opacity="0.08" stroke-width="6.4" fill="none"/><path d="M1375.71 424.55V506.7" stroke="#fff" stroke-opacity="0.08" stroke-width="6.4" fill="none"/><path d="M1504.53 509.25V571.6" stroke="#fff" stroke-opacity="0.08" stroke-width="6.4" fill="none"/><path d="M1559.72 471.75V474.6" stroke="#fff" stroke-opacity="0.08" stroke-width="6.4" fill="none"/><path d="M1587.33 454.35V478.3" stroke="#fff" stroke-opacity="0.08" stroke-width="6.4" fill="none"/><path d="M1660.94 533.65V556" stroke="#fff" stroke-opacity="0.08" stroke-width="6.4" fill="none"/><path d="M1688.54 543.15V572.65" stroke="#fff" stroke-opacity="0.08" stroke-width="6.4" fill="none"/><path d="M1743.74 552.55V572.65" stroke="#fff" stroke-opacity="0.08" stroke-width="6.4" fill="none"/><path d="M1844.96 522.45V539.8" stroke="#fff" stroke-opacity="0.08" stroke-width="6.4" fill="none"/><path d="M1872.56 521.45V572.65" stroke="#fff" stroke-opacity="0.08" stroke-width="6.4" fill="none"/><path d="M1900.16 523.95V539.8" stroke="#fff" stroke-opacity="0.08" stroke-width="6.4" fill="none"/><path d="M1927.76 538.75V541.7" stroke="#fff" stroke-opacity="0.08" stroke-width="6.4" fill="none"/><path d="M1955.36 544.55V572.65" stroke="#fff" stroke-opacity="0.08" stroke-width="6.4" fill="none"/><path d="M2028.97 568.95V570" stroke="#fff" stroke-opacity="0.08" stroke-width="6.4" fill="none"/><path d="M2056.57 562.95V572.65" stroke="#fff" stroke-opacity="0.08" stroke-width="6.4" fill="none"/><path d="M2212.99 567.15V572.65" stroke="#fff" stroke-opacity="0.08" stroke-width="6.4" fill="none"/><path d="M2240.59 566.05V572.65" stroke="#fff" stroke-opacity="0.08" stroke-width="6.4" fill="none"/><path d="M2268.19 571.45V572.65" stroke="#fff" stroke-opacity="0.08" stroke-width="6.4" fill="none"/><path d="M2323.39 573.55V576.35" stroke="#fff" stroke-opacity="0.08" stroke-width="6.4" fill="none"/></g>
<g><path d="M1280.41 413.5H1305.41M1292.91 413.5V542.6M1280.41 542.6H1305.41" stroke="#000" stroke-width="2.8" fill="none"/><path d="M1308.01 379.9H1333.01M1320.51 379.9V603.3M1308.01 603.3H1333.01" stroke="#000" stroke-width="2.8" fill="none"/><path d="M1335.61 395.2H1360.61M1348.11 395.2V523.5M1335.61 523.5H1360.61" stroke="#000" stroke-width="2.8" fill="none"/><path d="M1363.21 358.8H1388.21M1375.71 358.8V506.7M1363.21 506.7H1388.21" stroke="#000" stroke-width="2.8" fill="none"/><path d="M1390.81 418H1415.81" stroke="#000" stroke-width="3.6" fill="none"/><path d="M1464.42 538.9H1489.42" stroke="#000" stroke-width="3.6" fill="none"/><path d="M1492.03 455H1517.03M1504.53 455V571.6M1492.03 571.6H1517.03" stroke="#000" stroke-width="2.8" fill="none"/><path d="M1519.62 489.2H1544.62M1532.12 489.2V496.4M1519.62 496.4H1544.62" stroke="#000" stroke-width="2.8" fill="none"/><path d="M1547.22 460H1572.22M1559.72 460V474.6M1547.22 474.6H1572.22" stroke="#000" stroke-width="2.8" fill="none"/><path d="M1574.83 425.2H1599.83M1587.33 425.2V478.3M1574.83 478.3H1599.83" stroke="#000" stroke-width="2.8" fill="none"/><path d="M1648.44 506.5H1673.44M1660.94 506.5V556M1648.44 556H1673.44" stroke="#000" stroke-width="2.8" fill="none"/><path d="M1676.04 479H1701.04M1688.54 479V620.4M1676.04 620.4H1701.04" stroke="#000" stroke-width="2.8" fill="none"/><path d="M1703.64 542.8H1728.64M1716.14 542.8V546.6M1703.64 546.6H1728.64" stroke="#000" stroke-width="2.8" fill="none"/><path d="M1731.24 518.8H1756.24M1743.74 518.8V583.3M1731.24 583.3H1756.24" stroke="#000" stroke-width="2.8" fill="none"/><path d="M1758.84 549.8H1783.84M1771.34 549.8V553.9M1758.84 553.9H1783.84" stroke="#000" stroke-width="2.8" fill="none"/><path d="M1832.46 500.2H1857.46M1844.96 500.2V539.8M1832.46 539.8H1857.46" stroke="#000" stroke-width="2.8" fill="none"/><path d="M1860.06 467.6H1885.06M1872.56 467.6V582.8M1860.06 582.8H1885.06" stroke="#000" stroke-width="2.8" fill="none"/><path d="M1887.66 502.6H1912.66M1900.16 502.6V539.8M1887.66 539.8H1912.66" stroke="#000" stroke-width="2.8" fill="none"/><path d="M1915.26 528.4H1940.26M1927.76 528.4V541.7M1915.26 541.7H1940.26" stroke="#000" stroke-width="2.8" fill="none"/><path d="M1942.86 490.4H1967.86M1955.36 490.4V605.6M1942.86 605.6H1967.86" stroke="#000" stroke-width="2.8" fill="none"/><path d="M2016.47 558.8H2041.47M2028.97 558.8V570M2016.47 570H2041.47" stroke="#000" stroke-width="2.8" fill="none"/><path d="M2044.07 486.4H2069.07M2056.57 486.4V666.1M2044.07 666.1H2069.07" stroke="#000" stroke-width="2.8" fill="none"/><path d="M2071.67 515.9H2096.67M2084.17 515.9V637M2071.67 637H2096.67" stroke="#000" stroke-width="2.8" fill="none"/><path d="M2099.27 500.6H2124.27M2111.77 500.6V666.9M2099.27 666.9H2124.27" stroke="#000" stroke-width="2.8" fill="none"/><path d="M2126.87 517H2151.87M2139.37 517V644.1M2126.87 644.1H2151.87" stroke="#000" stroke-width="2.8" fill="none"/><path d="M2200.49 539.5H2225.49M2212.99 539.5V591.4M2200.49 591.4H2225.49" stroke="#000" stroke-width="2.8" fill="none"/><path d="M2228.09 515.9H2253.09M2240.59 515.9V621.3M2228.09 621.3H2253.09" stroke="#000" stroke-width="2.8" fill="none"/><path d="M2255.69 507.5H2280.69M2268.19 507.5V652.3M2255.69 652.3H2280.69" stroke="#000" stroke-width="2.8" fill="none"/><path d="M2283.29 533.2H2308.29M2295.79 533.2V615M2283.29 615H2308.29" stroke="#000" stroke-width="2.8" fill="none"/><path d="M2310.89 514.3H2335.89M2323.39 514.3V658.6M2310.89 658.6H2335.89" stroke="#000" stroke-width="2.8" fill="none"/></g>
<g><rect x="178.01" y="1262.2" width="20.5" height="99.5" fill="url(#pk)" stroke="#d4bcbe" stroke-width="0.8"/><rect x="205.61" y="1291.7" width="20.5" height="70" fill="url(#pk)" stroke="#d4bcbe" stroke-width="0.8"/><rect x="233.21" y="1343" width="20.5" height="18.7" fill="url(#pk)" stroke="#d4bcbe" stroke-width="0.8"/><rect x="362.12" y="1304.8" width="20.5" height="56.9" fill="url(#pk)" stroke="#d4bcbe" stroke-width="0.8"/><rect x="389.72" y="1322.9" width="20.5" height="38.8" fill="url(#pk)" stroke="#d4bcbe" stroke-width="0.8"/><rect x="417.32" y="1348" width="20.5" height="13.7" fill="url(#pk)" stroke="#d4bcbe" stroke-width="0.8"/><rect x="546.24" y="1323.2" width="20.5" height="38.5" fill="url(#pk)" stroke="#d4bcbe" stroke-width="0.8"/><rect x="573.84" y="1338.5" width="20.5" height="23.2" fill="url(#pk)" stroke="#d4bcbe" stroke-width="0.8"/><rect x="601.44" y="1348.4" width="20.5" height="13.3" fill="url(#pk)" stroke="#d4bcbe" stroke-width="0.8"/><rect x="656.64" y="1361.7" width="20.5" height="4.3" fill="url(#pkn)" stroke="#d6c8c8" stroke-width="0.8"/><rect x="730.36" y="1308.8" width="20.5" height="52.9" fill="url(#pk)" stroke="#d4bcbe" stroke-width="0.8"/><rect x="757.96" y="1317.5" width="20.5" height="44.2" fill="url(#pk)" stroke="#d4bcbe" stroke-width="0.8"/><rect x="785.56" y="1278.9" width="20.5" height="82.8" fill="url(#pk)" stroke="#d4bcbe" stroke-width="0.8"/><rect x="813.16" y="1290.5" width="20.5" height="71.2" fill="url(#pk)" stroke="#d4bcbe" stroke-width="0.8"/><rect x="840.76" y="1348.4" width="20.5" height="13.3" fill="url(#pk)" stroke="#d4bcbe" stroke-width="0.8"/><rect x="914.47" y="1335.3" width="20.5" height="26.4" fill="url(#pk)" stroke="#d4bcbe" stroke-width="0.8"/><rect x="942.07" y="1333.9" width="20.5" height="27.8" fill="url(#pk)" stroke="#d4bcbe" stroke-width="0.8"/><rect x="969.67" y="1339.3" width="20.5" height="22.4" fill="url(#pk)" stroke="#d4bcbe" stroke-width="0.8"/><rect x="997.27" y="1334" width="20.5" height="27.7" fill="url(#pk)" stroke="#d4bcbe" stroke-width="0.8"/><rect x="1024.87" y="1336.2" width="20.5" height="25.5" fill="url(#pk)" stroke="#d4bcbe" stroke-width="0.8"/><rect x="1098.59" y="1352.2" width="20.5" height="9.5" fill="url(#pk)" stroke="#d4bcbe" stroke-width="0.8"/><rect x="1126.19" y="1348.4" width="20.5" height="13.3" fill="url(#pk)" stroke="#d4bcbe" stroke-width="0.8"/><rect x="1153.79" y="1347.6" width="20.5" height="14.1" fill="url(#pk)" stroke="#d4bcbe" stroke-width="0.8"/><rect x="1181.39" y="1360" width="20.5" height="1.7" fill="url(#pk)" stroke="#d4bcbe" stroke-width="0.8"/><rect x="1208.99" y="1361.7" width="20.5" height="8.6" fill="url(#pkn)" stroke="#d6c8c8" stroke-width="0.8"/></g>
<g><rect x="178.41" y="1331.8" width="19.7" height="31.9" fill="none" stroke="#fff" stroke-width="5.9"/><path d="M175.76 1295.6H200.76M188.26 1295.6V1369.7M175.76 1369.7H200.76" stroke="#fff" stroke-opacity="0.85" stroke-width="6.4" fill="none"/><rect x="206.01" y="1341.9" width="19.7" height="21.8" fill="none" stroke="#fff" stroke-width="5.9"/><path d="M203.36 1267.7H228.36M215.86 1267.7V1444.1M203.36 1444.1H228.36" stroke="#fff" stroke-opacity="0.85" stroke-width="6.4" fill="none"/><rect x="233.61" y="1358.6" width="19.7" height="5.1" fill="none" stroke="#fff" stroke-width="5.9"/><path d="M230.96 1324.6H255.96M243.46 1324.6V1391.4M230.96 1391.4H255.96" stroke="#fff" stroke-opacity="0.85" stroke-width="6.4" fill="none"/><rect x="261.21" y="1361.7" width="19.7" height="2" fill="none" stroke="#fff" stroke-width="5.9"/><path d="M258.56 1343.8H283.56M271.06 1343.8V1382.3M258.56 1382.3H283.56" stroke="#fff" stroke-opacity="0.85" stroke-width="6.4" fill="none"/><rect x="288.81" y="1359.7" width="19.7" height="2.7" fill="none" stroke="#fff" stroke-width="5.9"/><path d="M286.16 1310.9H311.16M298.66 1310.9V1428.2M286.16 1428.2H311.16" stroke="#fff" stroke-opacity="0.85" stroke-width="6.4" fill="none"/><rect x="362.52" y="1345.8" width="19.7" height="17.9" fill="none" stroke="#fff" stroke-width="5.9"/><path d="M359.87 1260.8H384.87M372.37 1260.8V1475.3M359.87 1475.3H384.87" stroke="#fff" stroke-opacity="0.85" stroke-width="6.4" fill="none"/><rect x="390.12" y="1352.2" width="19.7" height="11.5" fill="none" stroke="#fff" stroke-width="5.9"/><path d="M387.47 1273.6H412.47M399.97 1273.6V1463.6M387.47 1463.6H412.47" stroke="#fff" stroke-opacity="0.85" stroke-width="6.4" fill="none"/><rect x="417.72" y="1359.1" width="19.7" height="4.6" fill="none" stroke="#fff" stroke-width="5.9"/><path d="M415.07 1271.9H440.07M427.57 1271.9V1494.8M415.07 1494.8H440.07" stroke="#fff" stroke-opacity="0.85" stroke-width="6.4" fill="none"/><rect x="445.32" y="1361.7" width="19.7" height="2" fill="none" stroke="#fff" stroke-width="5.9"/><path d="M442.67 1274.1H467.67M455.17 1274.1V1506M442.67 1506H467.67" stroke="#fff" stroke-opacity="0.85" stroke-width="6.4" fill="none"/><rect x="472.92" y="1361.7" width="19.7" height="2" fill="none" stroke="#fff" stroke-width="5.9"/><path d="M470.27 1319.6H495.27M482.77 1319.6V1414M470.27 1414H495.27" stroke="#fff" stroke-opacity="0.85" stroke-width="6.4" fill="none"/><rect x="546.64" y="1351.4" width="19.7" height="12.3" fill="none" stroke="#fff" stroke-width="5.9"/><path d="M543.99 1288.4H568.99M556.49 1288.4V1433.3M543.99 1433.3H568.99" stroke="#fff" stroke-opacity="0.85" stroke-width="6.4" fill="none"/><rect x="574.24" y="1356.2" width="19.7" height="7.5" fill="none" stroke="#fff" stroke-width="5.9"/><path d="M571.59 1298.6H596.59M584.09 1298.6V1427.3M571.59 1427.3H596.59" stroke="#fff" stroke-opacity="0.85" stroke-width="6.4" fill="none"/><rect x="601.84" y="1358.6" width="19.7" height="5.1" fill="none" stroke="#fff" stroke-width="5.9"/><path d="M599.19 1319.6H624.19M611.69 1319.6V1401.9M599.19 1401.9H624.19" stroke="#fff" stroke-opacity="0.85" stroke-width="6.4" fill="none"/><rect x="629.44" y="1361.7" width="19.7" height="2" fill="none" stroke="#fff" stroke-width="5.9"/><path d="M626.79 1327.4H651.79M639.29 1327.4V1402.6M626.79 1402.6H651.79" stroke="#fff" stroke-opacity="0.85" stroke-width="6.4" fill="none"/><rect x="657.04" y="1361.7" width="19.7" height="2.4" fill="none" stroke="#fff" stroke-width="5.9"/><path d="M654.39 1358.1H679.39M666.89 1358.1V1365.5M654.39 1365.5H679.39" stroke="#fff" stroke-opacity="0.85" stroke-width="6.4" fill="none"/><rect x="730.76" y="1346.7" width="19.7" height="17" fill="none" stroke="#fff" stroke-width="5.9"/><path d="M728.11 1288.4H753.11M740.61 1288.4V1419.3M728.11 1419.3H753.11" stroke="#fff" stroke-opacity="0.85" stroke-width="6.4" fill="none"/><rect x="758.36" y="1349.8" width="19.7" height="13.9" fill="none" stroke="#fff" stroke-width="5.9"/><path d="M755.71 1294H780.71M768.21 1294V1417.5M755.71 1417.5H780.71" stroke="#fff" stroke-opacity="0.85" stroke-width="6.4" fill="none"/><rect x="785.96" y="1337.5" width="19.7" height="26.2" fill="none" stroke="#fff" stroke-width="5.9"/><path d="M783.31 1204.2H808.31M795.81 1204.2V1665.6M783.31 1665.6H808.31" stroke="#fff" stroke-opacity="0.85" stroke-width="6.4" fill="none"/><rect x="813.56" y="1341.4" width="19.7" height="22.3" fill="none" stroke="#fff" stroke-width="5.9"/><path d="M810.91 1273.7H835.91M823.41 1273.7V1429.1M810.91 1429.1H835.91" stroke="#fff" stroke-opacity="0.85" stroke-width="6.4" fill="none"/><rect x="841.16" y="1359" width="19.7" height="4.7" fill="none" stroke="#fff" stroke-width="5.9"/><path d="M838.51 1312.3H863.51M851.01 1312.3V1412.3M838.51 1412.3H863.51" stroke="#fff" stroke-opacity="0.85" stroke-width="6.4" fill="none"/><rect x="914.87" y="1354.9" width="19.7" height="8.8" fill="none" stroke="#fff" stroke-width="5.9"/><path d="M912.22 1346.6H937.22M924.72 1346.6V1359.8M912.22 1359.8H937.22" stroke="#fff" stroke-opacity="0.85" stroke-width="6.4" fill="none"/><rect x="942.47" y="1354.9" width="19.7" height="8.8" fill="none" stroke="#fff" stroke-width="5.9"/><path d="M939.82 1307.5H964.82M952.32 1307.5V1411.6M939.82 1411.6H964.82" stroke="#fff" stroke-opacity="0.85" stroke-width="6.4" fill="none"/><rect x="970.07" y="1355.8" width="19.7" height="7.9" fill="none" stroke="#fff" stroke-width="5.9"/><path d="M967.42 1288.6H992.42M979.92 1288.6V1447.4M967.42 1447.4H992.42" stroke="#fff" stroke-opacity="0.85" stroke-width="6.4" fill="none"/><rect x="997.67" y="1354.9" width="19.7" height="8.8" fill="none" stroke="#fff" stroke-width="5.9"/><path d="M995.02 1286.8H1020.02M1007.52 1286.8V1445.6M995.02 1445.6H1020.02" stroke="#fff" stroke-opacity="0.85" stroke-width="6.4" fill="none"/><rect x="1025.27" y="1354.9" width="19.7" height="8.8" fill="none" stroke="#fff" stroke-width="5.9"/><path d="M1022.62 1305H1047.62M1035.12 1305V1416.1M1022.62 1416.1H1047.62" stroke="#fff" stroke-opacity="0.85" stroke-width="6.4" fill="none"/><rect x="1098.99" y="1360.2" width="19.7" height="3.5" fill="none" stroke="#fff" stroke-width="5.9"/><path d="M1096.34 1281.8H1121.34M1108.84 1281.8V1474M1096.34 1474H1121.34" stroke="#fff" stroke-opacity="0.85" stroke-width="6.4" fill="none"/><rect x="1126.59" y="1359.3" width="19.7" height="4.4" fill="none" stroke="#fff" stroke-width="5.9"/><path d="M1123.94 1353.7H1148.94M1136.44 1353.7V1362.8M1123.94 1362.8H1148.94" stroke="#fff" stroke-opacity="0.85" stroke-width="6.4" fill="none"/><rect x="1154.19" y="1359" width="19.7" height="4.7" fill="none" stroke="#fff" stroke-width="5.9"/><path d="M1151.54 1339.6H1176.54M1164.04 1339.6V1376.4M1151.54 1376.4H1176.54" stroke="#fff" stroke-opacity="0.85" stroke-width="6.4" fill="none"/><rect x="1181.79" y="1361.7" width="19.7" height="2" fill="none" stroke="#fff" stroke-width="5.9"/><path d="M1179.14 1356.7H1204.14M1191.64 1356.7V1363.5M1179.14 1363.5H1204.14" stroke="#fff" stroke-opacity="0.85" stroke-width="6.4" fill="none"/><rect x="1209.39" y="1361.7" width="19.7" height="5.5" fill="none" stroke="#fff" stroke-width="5.9"/></g>
<line x1="151.4" y1="1361.7" x2="1256.1" y2="1361.7" stroke="#000" stroke-width="2.5"/>
<g><rect x="178.41" y="1331.8" width="19.7" height="31.9" fill="#414141" stroke="#000" stroke-width="2.3"/><rect x="180.16" y="1333.55" width="16.2" height="28.4" fill="none" stroke="#4d4d4d" stroke-width="1.1"/><rect x="206.01" y="1341.9" width="19.7" height="21.8" fill="#d0d0d0" stroke="#000" stroke-width="2.3"/><rect x="207.76" y="1343.65" width="16.2" height="18.3" fill="none" stroke="#ececec" stroke-width="1.1"/><rect x="233.61" y="1358.6" width="19.7" height="5.1" fill="#000" stroke="#000" stroke-width="2.3"/><rect x="235.36" y="1360.35" width="16.2" height="1.6" fill="none" stroke="#9a9a9a" stroke-width="1.1"/><rect x="261.21" y="1361.7" width="19.7" height="2" fill="#000" stroke="#000" stroke-width="2.3"/><rect x="288.81" y="1359.7" width="19.7" height="2.7" fill="#000" stroke="#000" stroke-width="2.3"/><rect x="362.52" y="1345.8" width="19.7" height="17.9" fill="#414141" stroke="#000" stroke-width="2.3"/><rect x="364.27" y="1347.55" width="16.2" height="14.4" fill="none" stroke="#4d4d4d" stroke-width="1.1"/><rect x="390.12" y="1352.2" width="19.7" height="11.5" fill="#d0d0d0" stroke="#000" stroke-width="2.3"/><rect x="391.87" y="1353.95" width="16.2" height="8" fill="none" stroke="#ececec" stroke-width="1.1"/><rect x="417.72" y="1359.1" width="19.7" height="4.6" fill="#000" stroke="#000" stroke-width="2.3"/><rect x="445.32" y="1361.7" width="19.7" height="2" fill="#000" stroke="#000" stroke-width="2.3"/><rect x="472.92" y="1361.7" width="19.7" height="2" fill="#000" stroke="#000" stroke-width="2.3"/><rect x="546.64" y="1351.4" width="19.7" height="12.3" fill="#414141" stroke="#000" stroke-width="2.3"/><rect x="548.39" y="1353.15" width="16.2" height="8.8" fill="none" stroke="#4d4d4d" stroke-width="1.1"/><rect x="574.24" y="1356.2" width="19.7" height="7.5" fill="#d0d0d0" stroke="#000" stroke-width="2.3"/><rect x="575.99" y="1357.95" width="16.2" height="4" fill="none" stroke="#ececec" stroke-width="1.1"/><rect x="601.84" y="1358.6" width="19.7" height="5.1" fill="#000" stroke="#000" stroke-width="2.3"/><rect x="603.59" y="1360.35" width="16.2" height="1.6" fill="none" stroke="#9a9a9a" stroke-width="1.1"/><rect x="629.44" y="1361.7" width="19.7" height="2" fill="#000" stroke="#000" stroke-width="2.3"/><rect x="657.04" y="1361.7" width="19.7" height="2.4" fill="#000" stroke="#000" stroke-width="2.3"/><rect x="730.76" y="1346.7" width="19.7" height="17" fill="#414141" stroke="#000" stroke-width="2.3"/><rect x="732.51" y="1348.45" width="16.2" height="13.5" fill="none" stroke="#4d4d4d" stroke-width="1.1"/><rect x="758.36" y="1349.8" width="19.7" height="13.9" fill="#d0d0d0" stroke="#000" stroke-width="2.3"/><rect x="760.11" y="1351.55" width="16.2" height="10.4" fill="none" stroke="#ececec" stroke-width="1.1"/><rect x="785.96" y="1337.5" width="19.7" height="26.2" fill="#878787" stroke="#000" stroke-width="2.3"/><rect x="787.71" y="1339.25" width="16.2" height="22.7" fill="none" stroke="#9a9a9a" stroke-width="1.1"/><rect x="813.56" y="1341.4" width="19.7" height="22.3" fill="#e6e6e6" stroke="#000" stroke-width="2.3"/><rect x="815.31" y="1343.15" width="16.2" height="18.8" fill="none" stroke="#f6f6f6" stroke-width="1.1"/><rect x="841.16" y="1359" width="19.7" height="4.7" fill="#000" stroke="#000" stroke-width="2.3"/><rect x="842.91" y="1360.75" width="16.2" height="1.2" fill="none" stroke="#838383" stroke-width="1.1"/><rect x="914.87" y="1354.9" width="19.7" height="8.8" fill="#414141" stroke="#000" stroke-width="2.3"/><rect x="916.62" y="1356.65" width="16.2" height="5.3" fill="none" stroke="#4d4d4d" stroke-width="1.1"/><rect x="942.47" y="1354.9" width="19.7" height="8.8" fill="#d0d0d0" stroke="#000" stroke-width="2.3"/><rect x="944.22" y="1356.65" width="16.2" height="5.3" fill="none" stroke="#ececec" stroke-width="1.1"/><rect x="970.07" y="1355.8" width="19.7" height="7.9" fill="#878787" stroke="#000" stroke-width="2.3"/><rect x="971.82" y="1357.55" width="16.2" height="4.4" fill="none" stroke="#9a9a9a" stroke-width="1.1"/><rect x="997.67" y="1354.9" width="19.7" height="8.8" fill="#e6e6e6" stroke="#000" stroke-width="2.3"/><rect x="999.42" y="1356.65" width="16.2" height="5.3" fill="none" stroke="#f6f6f6" stroke-width="1.1"/><rect x="1025.27" y="1354.9" width="19.7" height="8.8" fill="#727272" stroke="#000" stroke-width="2.3"/><rect x="1027.02" y="1356.65" width="16.2" height="5.3" fill="none" stroke="#838383" stroke-width="1.1"/><rect x="1098.99" y="1360.2" width="19.7" height="3.5" fill="#000" stroke="#000" stroke-width="2.3"/><rect x="1126.59" y="1359.3" width="19.7" height="4.4" fill="#000" stroke="#000" stroke-width="2.3"/><rect x="1154.19" y="1359" width="19.7" height="4.7" fill="#000" stroke="#000" stroke-width="2.3"/><rect x="1155.94" y="1360.75" width="16.2" height="1.2" fill="none" stroke="#9a9a9a" stroke-width="1.1"/><rect x="1181.79" y="1361.7" width="19.7" height="2" fill="#000" stroke="#000" stroke-width="2.3"/><rect x="1209.39" y="1361.7" width="19.7" height="5.5" fill="#727272" stroke="#000" stroke-width="2.3"/><rect x="1211.14" y="1363.45" width="16.2" height="2" fill="none" stroke="#838383" stroke-width="1.1"/></g>
<g><path d="M188.26 1333.25V1362.25" stroke="#fff" stroke-opacity="0.08" stroke-width="6.4" fill="none"/><path d="M215.86 1343.35V1362.25" stroke="#fff" stroke-opacity="0.08" stroke-width="6.4" fill="none"/><path d="M243.46 1360.05V1362.25" stroke="#fff" stroke-opacity="0.08" stroke-width="6.4" fill="none"/><path d="M372.37 1347.25V1362.25" stroke="#fff" stroke-opacity="0.08" stroke-width="6.4" fill="none"/><path d="M399.97 1353.65V1362.25" stroke="#fff" stroke-opacity="0.08" stroke-width="6.4" fill="none"/><path d="M427.57 1360.55V1362.25" stroke="#fff" stroke-opacity="0.08" stroke-width="6.4" fill="none"/><path d="M556.49 1352.85V1362.25" stroke="#fff" stroke-opacity="0.08" stroke-width="6.4" fill="none"/><path d="M584.09 1357.65V1362.25" stroke="#fff" stroke-opacity="0.08" stroke-width="6.4" fill="none"/><path d="M611.69 1360.05V1362.25" stroke="#fff" stroke-opacity="0.08" stroke-width="6.4" fill="none"/><path d="M740.61 1348.15V1362.25" stroke="#fff" stroke-opacity="0.08" stroke-width="6.4" fill="none"/><path d="M768.21 1351.25V1362.25" stroke="#fff" stroke-opacity="0.08" stroke-width="6.4" fill="none"/><path d="M795.81 1338.95V1362.25" stroke="#fff" stroke-opacity="0.08" stroke-width="6.4" fill="none"/><path d="M823.41 1342.85V1362.25" stroke="#fff" stroke-opacity="0.08" stroke-width="6.4" fill="none"/><path d="M851.01 1360.45V1362.25" stroke="#fff" stroke-opacity="0.08" stroke-width="6.4" fill="none"/><path d="M924.72 1356.35V1359.8" stroke="#fff" stroke-opacity="0.08" stroke-width="6.4" fill="none"/><path d="M952.32 1356.35V1362.25" stroke="#fff" stroke-opacity="0.08" stroke-width="6.4" fill="none"/><path d="M979.92 1357.25V1362.25" stroke="#fff" stroke-opacity="0.08" stroke-width="6.4" fill="none"/><path d="M1007.52 1356.35V1362.25" stroke="#fff" stroke-opacity="0.08" stroke-width="6.4" fill="none"/><path d="M1035.12 1356.35V1362.25" stroke="#fff" stroke-opacity="0.08" stroke-width="6.4" fill="none"/><path d="M1136.44 1360.75V1362.25" stroke="#fff" stroke-opacity="0.08" stroke-width="6.4" fill="none"/><path d="M1164.04 1360.45V1362.25" stroke="#fff" stroke-opacity="0.08" stroke-width="6.4" fill="none"/></g>
<g><path d="M175.76 1295.6H200.76M188.26 1295.6V1369.7M175.76 1369.7H200.76" stroke="#000" stroke-width="2.8" fill="none"/><path d="M203.36 1267.7H228.36M215.86 1267.7V1444.1M203.36 1444.1H228.36" stroke="#000" stroke-width="2.8" fill="none"/><path d="M230.96 1324.6H255.96M243.46 1324.6V1391.4M230.96 1391.4H255.96" stroke="#000" stroke-width="2.8" fill="none"/><path d="M258.56 1343.8H283.56M271.06 1343.8V1382.3M258.56 1382.3H283.56" stroke="#000" stroke-width="2.8" fill="none"/><path d="M286.16 1310.9H311.16M298.66 1310.9V1428.2M286.16 1428.2H311.16" stroke="#000" stroke-width="2.8" fill="none"/><path d="M359.87 1260.8H384.87M372.37 1260.8V1475.3M359.87 1475.3H384.87" stroke="#000" stroke-width="2.8" fill="none"/><path d="M387.47 1273.6H412.47M399.97 1273.6V1463.6M387.47 1463.6H412.47" stroke="#000" stroke-width="2.8" fill="none"/><path d="M415.07 1271.9H440.07M427.57 1271.9V1494.8M415.07 1494.8H440.07" stroke="#000" stroke-width="2.8" fill="none"/><path d="M442.67 1274.1H467.67M455.17 1274.1V1506M442.67 1506H467.67" stroke="#000" stroke-width="2.8" fill="none"/><path d="M470.27 1319.6H495.27M482.77 1319.6V1414M470.27 1414H495.27" stroke="#000" stroke-width="2.8" fill="none"/><path d="M543.99 1288.4H568.99M556.49 1288.4V1433.3M543.99 1433.3H568.99" stroke="#000" stroke-width="2.8" fill="none"/><path d="M571.59 1298.6H596.59M584.09 1298.6V1427.3M571.59 1427.3H596.59" stroke="#000" stroke-width="2.8" fill="none"/><path d="M599.19 1319.6H624.19M611.69 1319.6V1401.9M599.19 1401.9H624.19" stroke="#000" stroke-width="2.8" fill="none"/><path d="M626.79 1327.4H651.79M639.29 1327.4V1402.6M626.79 1402.6H651.79" stroke="#000" stroke-width="2.8" fill="none"/><path d="M654.39 1358.1H679.39M666.89 1358.1V1365.5M654.39 1365.5H679.39" stroke="#000" stroke-width="2.8" fill="none"/><path d="M728.11 1288.4H753.11M740.61 1288.4V1419.3M728.11 1419.3H753.11" stroke="#000" stroke-width="2.8" fill="none"/><path d="M755.71 1294H780.71M768.21 1294V1417.5M755.71 1417.5H780.71" stroke="#000" stroke-width="2.8" fill="none"/><path d="M783.31 1204.2H808.31M795.81 1204.2V1665.6M783.31 1665.6H808.31" stroke="#000" stroke-width="2.8" fill="none"/><path d="M810.91 1273.7H835.91M823.41 1273.7V1429.1M810.91 1429.1H835.91" stroke="#000" stroke-width="2.8" fill="none"/><path d="M838.51 1312.3H863.51M851.01 1312.3V1412.3M838.51 1412.3H863.51" stroke="#000" stroke-width="2.8" fill="none"/><path d="M912.22 1346.6H937.22M924.72 1346.6V1359.8M912.22 1359.8H937.22" stroke="#000" stroke-width="2.8" fill="none"/><path d="M939.82 1307.5H964.82M952.32 1307.5V1411.6M939.82 1411.6H964.82" stroke="#000" stroke-width="2.8" fill="none"/><path d="M967.42 1288.6H992.42M979.92 1288.6V1447.4M967.42 1447.4H992.42" stroke="#000" stroke-width="2.8" fill="none"/><path d="M995.02 1286.8H1020.02M1007.52 1286.8V1445.6M995.02 1445.6H1020.02" stroke="#000" stroke-width="2.8" fill="none"/><path d="M1022.62 1305H1047.62M1035.12 1305V1416.1M1022.62 1416.1H1047.62" stroke="#000" stroke-width="2.8" fill="none"/><path d="M1096.34 1281.8H1121.34M1108.84 1281.8V1474M1096.34 1474H1121.34" stroke="#000" stroke-width="2.8" fill="none"/><path d="M1123.94 1353.7H1148.94M1136.44 1353.7V1362.8M1123.94 1362.8H1148.94" stroke="#000" stroke-width="2.8" fill="none"/><path d="M1151.54 1339.6H1176.54M1164.04 1339.6V1376.4M1151.54 1376.4H1176.54" stroke="#000" stroke-width="2.8" fill="none"/><path d="M1179.14 1356.7H1204.14M1191.64 1356.7V1363.5M1179.14 1363.5H1204.14" stroke="#000" stroke-width="2.8" fill="none"/></g>
<g><rect x="1282.66" y="1334.3" width="20.5" height="28.7" fill="url(#pk)" stroke="#d4bcbe" stroke-width="0.8"/><rect x="1310.26" y="1338.6" width="20.5" height="24.4" fill="url(#pk)" stroke="#d4bcbe" stroke-width="0.8"/><rect x="1337.86" y="1349" width="20.5" height="14" fill="url(#pk)" stroke="#d4bcbe" stroke-width="0.8"/><rect x="1466.67" y="1338.6" width="20.5" height="24.4" fill="url(#pk)" stroke="#d4bcbe" stroke-width="0.8"/><rect x="1494.28" y="1343.5" width="20.5" height="19.5" fill="url(#pk)" stroke="#d4bcbe" stroke-width="0.8"/><rect x="1521.88" y="1349.5" width="20.5" height="13.5" fill="url(#pk)" stroke="#d4bcbe" stroke-width="0.8"/><rect x="1577.08" y="1363" width="20.5" height="2.5" fill="url(#pkn)" stroke="#d6c8c8" stroke-width="0.8"/><rect x="1650.69" y="1326.3" width="20.5" height="36.7" fill="url(#pk)" stroke="#d4bcbe" stroke-width="0.8"/><rect x="1678.29" y="1339.5" width="20.5" height="23.5" fill="url(#pk)" stroke="#d4bcbe" stroke-width="0.8"/><rect x="1705.89" y="1349.5" width="20.5" height="13.5" fill="url(#pk)" stroke="#d4bcbe" stroke-width="0.8"/><rect x="1834.71" y="1319.1" width="20.5" height="43.9" fill="url(#pk)" stroke="#d4bcbe" stroke-width="0.8"/><rect x="1862.31" y="1354.8" width="20.5" height="8.2" fill="url(#pk)" stroke="#d4bcbe" stroke-width="0.8"/><rect x="1889.91" y="1350" width="20.5" height="13" fill="url(#pk)" stroke="#d4bcbe" stroke-width="0.8"/><rect x="1917.51" y="1354.8" width="20.5" height="8.2" fill="url(#pk)" stroke="#d4bcbe" stroke-width="0.8"/><rect x="1945.11" y="1363" width="20.5" height="1.5" fill="url(#pkn)" stroke="#d6c8c8" stroke-width="0.8"/><rect x="2018.72" y="1336.9" width="20.5" height="26.1" fill="url(#pk)" stroke="#d4bcbe" stroke-width="0.8"/><rect x="2046.32" y="1337.8" width="20.5" height="25.2" fill="url(#pk)" stroke="#d4bcbe" stroke-width="0.8"/><rect x="2073.92" y="1336.9" width="20.5" height="26.1" fill="url(#pk)" stroke="#d4bcbe" stroke-width="0.8"/><rect x="2101.52" y="1337.8" width="20.5" height="25.2" fill="url(#pk)" stroke="#d4bcbe" stroke-width="0.8"/><rect x="2129.12" y="1345" width="20.5" height="18" fill="url(#pk)" stroke="#d4bcbe" stroke-width="0.8"/><rect x="2202.74" y="1353.9" width="20.5" height="9.1" fill="url(#pk)" stroke="#d4bcbe" stroke-width="0.8"/><rect x="2230.34" y="1348.7" width="20.5" height="14.3" fill="url(#pk)" stroke="#d4bcbe" stroke-width="0.8"/><rect x="2257.94" y="1349.3" width="20.5" height="13.7" fill="url(#pk)" stroke="#d4bcbe" stroke-width="0.8"/><rect x="2285.54" y="1361" width="20.5" height="2" fill="url(#pk)" stroke="#d4bcbe" stroke-width="0.8"/><rect x="2313.14" y="1363" width="20.5" height="7.4" fill="url(#pkn)" stroke="#d6c8c8" stroke-width="0.8"/></g>
<g><rect x="1283.06" y="1355.4" width="19.7" height="9.6" fill="none" stroke="#fff" stroke-width="5.9"/><path d="M1280.41 1332.8H1305.41M1292.91 1332.8V1376.4M1280.41 1376.4H1305.41" stroke="#fff" stroke-opacity="0.85" stroke-width="6.4" fill="none"/><rect x="1310.66" y="1357" width="19.7" height="8" fill="none" stroke="#fff" stroke-width="5.9"/><path d="M1308.01 1334.3H1333.01M1320.51 1334.3V1377.9M1308.01 1377.9H1333.01" stroke="#fff" stroke-opacity="0.85" stroke-width="6.4" fill="none"/><rect x="1338.26" y="1360.2" width="19.7" height="4.8" fill="none" stroke="#fff" stroke-width="5.9"/><path d="M1335.61 1340.8H1360.61M1348.11 1340.8V1376.9M1335.61 1376.9H1360.61" stroke="#fff" stroke-opacity="0.85" stroke-width="6.4" fill="none"/><rect x="1365.86" y="1363" width="19.7" height="2" fill="none" stroke="#fff" stroke-width="5.9"/><path d="M1363.21 1349H1388.21M1375.71 1349V1377.7M1363.21 1377.7H1388.21" stroke="#fff" stroke-opacity="0.85" stroke-width="6.4" fill="none"/><rect x="1393.46" y="1363" width="19.7" height="2" fill="none" stroke="#fff" stroke-width="5.9"/><path d="M1390.81 1332.1H1415.81M1403.31 1332.1V1398.4M1390.81 1398.4H1415.81" stroke="#fff" stroke-opacity="0.85" stroke-width="6.4" fill="none"/><rect x="1467.08" y="1357.2" width="19.7" height="7.8" fill="none" stroke="#fff" stroke-width="5.9"/><path d="M1464.42 1326.8H1489.42M1476.92 1326.8V1387.8M1464.42 1387.8H1489.42" stroke="#fff" stroke-opacity="0.85" stroke-width="6.4" fill="none"/><rect x="1494.68" y="1358.5" width="19.7" height="6.5" fill="none" stroke="#fff" stroke-width="5.9"/><path d="M1492.03 1315.4H1517.03M1504.53 1315.4V1407.1M1492.03 1407.1H1517.03" stroke="#fff" stroke-opacity="0.85" stroke-width="6.4" fill="none"/><rect x="1522.28" y="1360.4" width="19.7" height="4.6" fill="none" stroke="#fff" stroke-width="5.9"/><path d="M1519.62 1326.8H1544.62M1532.12 1326.8V1395.1M1519.62 1395.1H1544.62" stroke="#fff" stroke-opacity="0.85" stroke-width="6.4" fill="none"/><rect x="1549.88" y="1363" width="19.7" height="2" fill="none" stroke="#fff" stroke-width="5.9"/><path d="M1547.22 1330.9H1572.22M1559.72 1330.9V1400.2M1547.22 1400.2H1572.22" stroke="#fff" stroke-opacity="0.85" stroke-width="6.4" fill="none"/><rect x="1577.48" y="1363" width="19.7" height="2.1" fill="none" stroke="#fff" stroke-width="5.9"/><path d="M1574.83 1321.7H1599.83M1587.33 1321.7V1413.7M1574.83 1413.7H1599.83" stroke="#fff" stroke-opacity="0.85" stroke-width="6.4" fill="none"/><rect x="1651.09" y="1352" width="19.7" height="13" fill="none" stroke="#fff" stroke-width="5.9"/><path d="M1648.44 1324.4H1673.44M1660.94 1324.4V1380.4M1648.44 1380.4H1673.44" stroke="#fff" stroke-opacity="0.85" stroke-width="6.4" fill="none"/><rect x="1678.69" y="1357.1" width="19.7" height="7.9" fill="none" stroke="#fff" stroke-width="5.9"/><path d="M1676.04 1276.9H1701.04M1688.54 1276.9V1474.6M1676.04 1474.6H1701.04" stroke="#fff" stroke-opacity="0.85" stroke-width="6.4" fill="none"/><rect x="1706.29" y="1360.2" width="19.7" height="4.8" fill="none" stroke="#fff" stroke-width="5.9"/><path d="M1703.64 1307.2H1728.64M1716.14 1307.2V1424.7M1703.64 1424.7H1728.64" stroke="#fff" stroke-opacity="0.85" stroke-width="6.4" fill="none"/><rect x="1733.89" y="1363" width="19.7" height="2" fill="none" stroke="#fff" stroke-width="5.9"/><path d="M1731.24 1354H1756.24M1743.74 1354V1372.6M1731.24 1372.6H1756.24" stroke="#fff" stroke-opacity="0.85" stroke-width="6.4" fill="none"/><rect x="1761.49" y="1363" width="19.7" height="2" fill="none" stroke="#fff" stroke-width="5.9"/><path d="M1758.84 1326.8H1783.84M1771.34 1326.8V1406.2M1758.84 1406.2H1783.84" stroke="#fff" stroke-opacity="0.85" stroke-width="6.4" fill="none"/><rect x="1835.11" y="1350.9" width="19.7" height="14.1" fill="none" stroke="#fff" stroke-width="5.9"/><path d="M1832.46 1255.6H1857.46M1844.96 1255.6V1507.6M1832.46 1507.6H1857.46" stroke="#fff" stroke-opacity="0.85" stroke-width="6.4" fill="none"/><rect x="1862.71" y="1361.5" width="19.7" height="3.5" fill="none" stroke="#fff" stroke-width="5.9"/><path d="M1860.06 1291H1885.06M1872.56 1291V1458.9M1860.06 1458.9H1885.06" stroke="#fff" stroke-opacity="0.85" stroke-width="6.4" fill="none"/><rect x="1890.31" y="1360.6" width="19.7" height="4.4" fill="none" stroke="#fff" stroke-width="5.9"/><path d="M1887.66 1265.3H1912.66M1900.16 1265.3V1516.7M1887.66 1516.7H1912.66" stroke="#fff" stroke-opacity="0.85" stroke-width="6.4" fill="none"/><rect x="1917.91" y="1361.5" width="19.7" height="3.5" fill="none" stroke="#fff" stroke-width="5.9"/><path d="M1915.26 1298.9H1940.26M1927.76 1298.9V1442.6M1915.26 1442.6H1940.26" stroke="#fff" stroke-opacity="0.85" stroke-width="6.4" fill="none"/><rect x="1945.51" y="1363" width="19.7" height="1.4" fill="none" stroke="#fff" stroke-width="5.9"/><path d="M1942.86 1244.1H1967.86M1955.36 1244.1V1620.7M1942.86 1620.7H1967.86" stroke="#fff" stroke-opacity="0.85" stroke-width="6.4" fill="none"/><rect x="2019.12" y="1356.5" width="19.7" height="8.5" fill="none" stroke="#fff" stroke-width="5.9"/><path d="M2016.47 1343H2041.47M2028.97 1343V1366.2M2016.47 1366.2H2041.47" stroke="#fff" stroke-opacity="0.85" stroke-width="6.4" fill="none"/><rect x="2046.72" y="1356.5" width="19.7" height="8.5" fill="none" stroke="#fff" stroke-width="5.9"/><path d="M2044.07 1298.8H2069.07M2056.57 1298.8V1430M2044.07 1430H2069.07" stroke="#fff" stroke-opacity="0.85" stroke-width="6.4" fill="none"/><rect x="2074.32" y="1356.5" width="19.7" height="8.5" fill="none" stroke="#fff" stroke-width="5.9"/><path d="M2071.67 1327.5H2096.67M2084.17 1327.5V1384.7M2071.67 1384.7H2096.67" stroke="#fff" stroke-opacity="0.85" stroke-width="6.4" fill="none"/><rect x="2101.92" y="1356.5" width="19.7" height="8.5" fill="none" stroke="#fff" stroke-width="5.9"/><path d="M2099.27 1310.2H2124.27M2111.77 1310.2V1409.5M2099.27 1409.5H2124.27" stroke="#fff" stroke-opacity="0.85" stroke-width="6.4" fill="none"/><rect x="2129.52" y="1358.1" width="19.7" height="6.9" fill="none" stroke="#fff" stroke-width="5.9"/><path d="M2126.87 1349.9H2151.87M2139.37 1349.9V1364.4M2126.87 1364.4H2151.87" stroke="#fff" stroke-opacity="0.85" stroke-width="6.4" fill="none"/><rect x="2203.14" y="1361.1" width="19.7" height="3.9" fill="none" stroke="#fff" stroke-width="5.9"/><path d="M2200.49 1349H2225.49M2212.99 1349V1370.4M2200.49 1370.4H2225.49" stroke="#fff" stroke-opacity="0.85" stroke-width="6.4" fill="none"/><rect x="2230.74" y="1360.4" width="19.7" height="4.6" fill="none" stroke="#fff" stroke-width="5.9"/><path d="M2228.09 1332.9H2253.09M2240.59 1332.9V1387M2228.09 1387H2253.09" stroke="#fff" stroke-opacity="0.85" stroke-width="6.4" fill="none"/><rect x="2258.34" y="1360.4" width="19.7" height="4.6" fill="none" stroke="#fff" stroke-width="5.9"/><path d="M2255.69 1322.6H2280.69M2268.19 1322.6V1400.1M2255.69 1400.1H2280.69" stroke="#fff" stroke-opacity="0.85" stroke-width="6.4" fill="none"/><rect x="2285.94" y="1363" width="19.7" height="2" fill="none" stroke="#fff" stroke-width="5.9"/><path d="M2283.29 1358H2308.29M2295.79 1358V1363.2M2283.29 1363.2H2308.29" stroke="#fff" stroke-opacity="0.85" stroke-width="6.4" fill="none"/><rect x="2313.54" y="1363" width="19.7" height="4.4" fill="none" stroke="#fff" stroke-width="5.9"/></g>
<line x1="1256.1" y1="1363" x2="2360.2" y2="1363" stroke="#000" stroke-width="2.5"/>
<g><rect x="1283.06" y="1355.4" width="19.7" height="9.6" fill="#414141" stroke="#000" stroke-width="2.3"/><rect x="1284.81" y="1357.15" width="16.2" height="6.1" fill="none" stroke="#4d4d4d" stroke-width="1.1"/><rect x="1310.66" y="1357" width="19.7" height="8" fill="#d0d0d0" stroke="#000" stroke-width="2.3"/><rect x="1312.41" y="1358.75" width="16.2" height="4.5" fill="none" stroke="#ececec" stroke-width="1.1"/><rect x="1338.26" y="1360.2" width="19.7" height="4.8" fill="#000" stroke="#000" stroke-width="2.3"/><rect x="1340.01" y="1361.95" width="16.2" height="1.3" fill="none" stroke="#9a9a9a" stroke-width="1.1"/><rect x="1365.86" y="1363" width="19.7" height="2" fill="#000" stroke="#000" stroke-width="2.3"/><rect x="1393.46" y="1363" width="19.7" height="2" fill="#000" stroke="#000" stroke-width="2.3"/><rect x="1467.08" y="1357.2" width="19.7" height="7.8" fill="#414141" stroke="#000" stroke-width="2.3"/><rect x="1468.83" y="1358.95" width="16.2" height="4.3" fill="none" stroke="#4d4d4d" stroke-width="1.1"/><rect x="1494.68" y="1358.5" width="19.7" height="6.5" fill="#d0d0d0" stroke="#000" stroke-width="2.3"/><rect x="1496.43" y="1360.25" width="16.2" height="3" fill="none" stroke="#ececec" stroke-width="1.1"/><rect x="1522.28" y="1360.4" width="19.7" height="4.6" fill="#000" stroke="#000" stroke-width="2.3"/><rect x="1549.88" y="1363" width="19.7" height="2" fill="#000" stroke="#000" stroke-width="2.3"/><rect x="1577.48" y="1363" width="19.7" height="2.1" fill="#000" stroke="#000" stroke-width="2.3"/><rect x="1651.09" y="1352" width="19.7" height="13" fill="#414141" stroke="#000" stroke-width="2.3"/><rect x="1652.84" y="1353.75" width="16.2" height="9.5" fill="none" stroke="#4d4d4d" stroke-width="1.1"/><rect x="1678.69" y="1357.1" width="19.7" height="7.9" fill="#d0d0d0" stroke="#000" stroke-width="2.3"/><rect x="1680.44" y="1358.85" width="16.2" height="4.4" fill="none" stroke="#ececec" stroke-width="1.1"/><rect x="1706.29" y="1360.2" width="19.7" height="4.8" fill="#000" stroke="#000" stroke-width="2.3"/><rect x="1708.04" y="1361.95" width="16.2" height="1.3" fill="none" stroke="#9a9a9a" stroke-width="1.1"/><rect x="1733.89" y="1363" width="19.7" height="2" fill="#000" stroke="#000" stroke-width="2.3"/><rect x="1761.49" y="1363" width="19.7" height="2" fill="#000" stroke="#000" stroke-width="2.3"/><rect x="1835.11" y="1350.9" width="19.7" height="14.1" fill="#414141" stroke="#000" stroke-width="2.3"/><rect x="1836.86" y="1352.65" width="16.2" height="10.6" fill="none" stroke="#4d4d4d" stroke-width="1.1"/><rect x="1862.71" y="1361.5" width="19.7" height="3.5" fill="#000" stroke="#000" stroke-width="2.3"/><rect x="1890.31" y="1360.6" width="19.7" height="4.4" fill="#000" stroke="#000" stroke-width="2.3"/><rect x="1917.91" y="1361.5" width="19.7" height="3.5" fill="#000" stroke="#000" stroke-width="2.3"/><rect x="1945.51" y="1363" width="19.7" height="1.4" fill="#000" stroke="#000" stroke-width="2.3"/><rect x="2019.12" y="1356.5" width="19.7" height="8.5" fill="#414141" stroke="#000" stroke-width="2.3"/><rect x="2020.87" y="1358.25" width="16.2" height="5" fill="none" stroke="#4d4d4d" stroke-width="1.1"/><rect x="2046.72" y="1356.5" width="19.7" height="8.5" fill="#d0d0d0" stroke="#000" stroke-width="2.3"/><rect x="2048.47" y="1358.25" width="16.2" height="5" fill="none" stroke="#ececec" stroke-width="1.1"/><rect x="2074.32" y="1356.5" width="19.7" height="8.5" fill="#878787" stroke="#000" stroke-width="2.3"/><rect x="2076.07" y="1358.25" width="16.2" height="5" fill="none" stroke="#9a9a9a" stroke-width="1.1"/><rect x="2101.92" y="1356.5" width="19.7" height="8.5" fill="#e6e6e6" stroke="#000" stroke-width="2.3"/><rect x="2103.67" y="1358.25" width="16.2" height="5" fill="none" stroke="#f6f6f6" stroke-width="1.1"/><rect x="2129.52" y="1358.1" width="19.7" height="6.9" fill="#727272" stroke="#000" stroke-width="2.3"/><rect x="2131.27" y="1359.85" width="16.2" height="3.4" fill="none" stroke="#838383" stroke-width="1.1"/><rect x="2203.14" y="1361.1" width="19.7" height="3.9" fill="#000" stroke="#000" stroke-width="2.3"/><rect x="2230.74" y="1360.4" width="19.7" height="4.6" fill="#000" stroke="#000" stroke-width="2.3"/><rect x="2258.34" y="1360.4" width="19.7" height="4.6" fill="#000" stroke="#000" stroke-width="2.3"/><rect x="2285.94" y="1363" width="19.7" height="2" fill="#000" stroke="#000" stroke-width="2.3"/><rect x="2313.54" y="1363" width="19.7" height="4.4" fill="#000" stroke="#000" stroke-width="2.3"/></g>
<g><path d="M1292.91 1356.85V1363.55" stroke="#fff" stroke-opacity="0.08" stroke-width="6.4" fill="none"/><path d="M1320.51 1358.45V1363.55" stroke="#fff" stroke-opacity="0.08" stroke-width="6.4" fill="none"/><path d="M1348.11 1361.65V1363.55" stroke="#fff" stroke-opacity="0.08" stroke-width="6.4" fill="none"/><path d="M1476.92 1358.65V1363.55" stroke="#fff" stroke-opacity="0.08" stroke-width="6.4" fill="none"/><path d="M1504.53 1359.95V1363.55" stroke="#fff" stroke-opacity="0.08" stroke-width="6.4" fill="none"/><path d="M1532.12 1361.85V1363.55" stroke="#fff" stroke-opacity="0.08" stroke-width="6.4" fill="none"/><path d="M1660.94 1353.45V1363.55" stroke="#fff" stroke-opacity="0.08" stroke-width="6.4" fill="none"/><path d="M1688.54 1358.55V1363.55" stroke="#fff" stroke-opacity="0.08" stroke-width="6.4" fill="none"/><path d="M1716.14 1361.65V1363.55" stroke="#fff" stroke-opacity="0.08" stroke-width="6.4" fill="none"/><path d="M1844.96 1352.35V1363.55" stroke="#fff" stroke-opacity="0.08" stroke-width="6.4" fill="none"/><path d="M1900.16 1362.05V1363.55" stroke="#fff" stroke-opacity="0.08" stroke-width="6.4" fill="none"/><path d="M2028.97 1357.95V1363.55" stroke="#fff" stroke-opacity="0.08" stroke-width="6.4" fill="none"/><path d="M2056.57 1357.95V1363.55" stroke="#fff" stroke-opacity="0.08" stroke-width="6.4" fill="none"/><path d="M2084.17 1357.95V1363.55" stroke="#fff" stroke-opacity="0.08" stroke-width="6.4" fill="none"/><path d="M2111.77 1357.95V1363.55" stroke="#fff" stroke-opacity="0.08" stroke-width="6.4" fill="none"/><path d="M2139.37 1359.55V1363.55" stroke="#fff" stroke-opacity="0.08" stroke-width="6.4" fill="none"/><path d="M2240.59 1361.85V1363.55" stroke="#fff" stroke-opacity="0.08" stroke-width="6.4" fill="none"/><path d="M2268.19 1361.85V1363.55" stroke="#fff" stroke-opacity="0.08" stroke-width="6.4" fill="none"/></g>
<g><path d="M1280.41 1332.8H1305.41M1292.91 1332.8V1376.4M1280.41 1376.4H1305.41" stroke="#000" stroke-width="2.8" fill="none"/><path d="M1308.01 1334.3H1333.01M1320.51 1334.3V1377.9M1308.01 1377.9H1333.01" stroke="#000" stroke-width="2.8" fill="none"/><path d="M1335.61 1340.8H1360.61M1348.11 1340.8V1376.9M1335.61 1376.9H1360.61" stroke="#000" stroke-width="2.8" fill="none"/><path d="M1363.21 1349H1388.21M1375.71 1349V1377.7M1363.21 1377.7H1388.21" stroke="#000" stroke-width="2.8" fill="none"/><path d="M1390.81 1332.1H1415.81M1403.31 1332.1V1398.4M1390.81 1398.4H1415.81" stroke="#000" stroke-width="2.8" fill="none"/><path d="M1464.42 1326.8H1489.42M1476.92 1326.8V1387.8M1464.42 1387.8H1489.42" stroke="#000" stroke-width="2.8" fill="none"/><path d="M1492.03 1315.4H1517.03M1504.53 1315.4V1407.1M1492.03 1407.1H1517.03" stroke="#000" stroke-width="2.8" fill="none"/><path d="M1519.62 1326.8H1544.62M1532.12 1326.8V1395.1M1519.62 1395.1H1544.62" stroke="#000" stroke-width="2.8" fill="none"/><path d="M1547.22 1330.9H1572.22M1559.72 1330.9V1400.2M1547.22 1400.2H1572.22" stroke="#000" stroke-width="2.8" fill="none"/><path d="M1574.83 1321.7H1599.83M1587.33 1321.7V1413.7M1574.83 1413.7H1599.83" stroke="#000" stroke-width="2.8" fill="none"/><path d="M1648.44 1324.4H1673.44M1660.94 1324.4V1380.4M1648.44 1380.4H1673.44" stroke="#000" stroke-width="2.8" fill="none"/><path d="M1676.04 1276.9H1701.04M1688.54 1276.9V1474.6M1676.04 1474.6H1701.04" stroke="#000" stroke-width="2.8" fill="none"/><path d="M1703.64 1307.2H1728.64M1716.14 1307.2V1424.7M1703.64 1424.7H1728.64" stroke="#000" stroke-width="2.8" fill="none"/><path d="M1731.24 1354H1756.24M1743.74 1354V1372.6M1731.24 1372.6H1756.24" stroke="#000" stroke-width="2.8" fill="none"/><path d="M1758.84 1326.8H1783.84M1771.34 1326.8V1406.2M1758.84 1406.2H1783.84" stroke="#000" stroke-width="2.8" fill="none"/><path d="M1832.46 1255.6H1857.46M1844.96 1255.6V1507.6M1832.46 1507.6H1857.46" stroke="#000" stroke-width="2.8" fill="none"/><path d="M1860.06 1291H1885.06M1872.56 1291V1458.9M1860.06 1458.9H1885.06" stroke="#000" stroke-width="2.8" fill="none"/><path d="M1887.66 1265.3H1912.66M1900.16 1265.3V1516.7M1887.66 1516.7H1912.66" stroke="#000" stroke-width="2.8" fill="none"/><path d="M1915.26 1298.9H1940.26M1927.76 1298.9V1442.6M1915.26 1442.6H1940.26" stroke="#000" stroke-width="2.8" fill="none"/><path d="M1942.86 1244.1H1967.86M1955.36 1244.1V1620.7M1942.86 1620.7H1967.86" stroke="#000" stroke-width="2.8" fill="none"/><path d="M2016.47 1343H2041.47M2028.97 1343V1366.2M2016.47 1366.2H2041.47" stroke="#000" stroke-width="2.8" fill="none"/><path d="M2044.07 1298.8H2069.07M2056.57 1298.8V1430M2044.07 1430H2069.07" stroke="#000" stroke-width="2.8" fill="none"/><path d="M2071.67 1327.5H2096.67M2084.17 1327.5V1384.7M2071.67 1384.7H2096.67" stroke="#000" stroke-width="2.8" fill="none"/><path d="M2099.27 1310.2H2124.27M2111.77 1310.2V1409.5M2099.27 1409.5H2124.27" stroke="#000" stroke-width="2.8" fill="none"/><path d="M2126.87 1349.9H2151.87M2139.37 1349.9V1364.4M2126.87 1364.4H2151.87" stroke="#000" stroke-width="2.8" fill="none"/><path d="M2200.49 1349H2225.49M2212.99 1349V1370.4M2200.49 1370.4H2225.49" stroke="#000" stroke-width="2.8" fill="none"/><path d="M2228.09 1332.9H2253.09M2240.59 1332.9V1387M2228.09 1387H2253.09" stroke="#000" stroke-width="2.8" fill="none"/><path d="M2255.69 1322.6H2280.69M2268.19 1322.6V1400.1M2255.69 1400.1H2280.69" stroke="#000" stroke-width="2.8" fill="none"/><path d="M2283.29 1358H2308.29M2295.79 1358V1363.2M2283.29 1363.2H2308.29" stroke="#000" stroke-width="2.8" fill="none"/></g>
<path d="M151.4 871.44h7M151.4 833.81h7M151.4 796.18h7M151.4 758.55h12M151.4 720.92h7M151.4 683.29h7M151.4 645.66h7M151.4 608.03h7M151.4 570.4h12M151.4 532.77h7M151.4 495.14h7M151.4 457.51h7M151.4 419.88h7M151.4 382.25h12M151.4 344.62h7M151.4 306.99h7M151.4 269.36h7M151.4 231.73h7M151.4 194.1h12M151.4 156.47h7M1256.1 881.96h-8M1256.1 853.7h-12M1256.1 825.44h-8M1256.1 797.18h-8M1256.1 768.92h-8M1256.1 740.66h-8M1256.1 712.4h-12M1256.1 684.14h-8M1256.1 655.88h-8M1256.1 627.62h-8M1256.1 599.36h-8M1256.1 571.1h-12M1256.1 542.84h-8M1256.1 514.58h-8M1256.1 486.32h-8M1256.1 458.06h-8M1256.1 429.8h-12M1256.1 401.54h-8M1256.1 373.28h-8M1256.1 345.02h-8M1256.1 316.76h-8M1256.1 288.5h-12M1256.1 260.24h-8M1256.1 231.98h-8M1256.1 203.72h-8M1256.1 175.46h-8M1256.1 147.2h-12" stroke="#000" stroke-width="2.5" fill="none"/>
<path d="M1256.1 873.1h7M1256.1 835.4h7M1256.1 797.7h7M1256.1 760h12M1256.1 722.3h7M1256.1 684.6h7M1256.1 646.9h7M1256.1 609.2h7M1256.1 571.5h12M1256.1 533.8h7M1256.1 496.1h7M1256.1 458.4h7M1256.1 420.7h7M1256.1 383h12M1256.1 345.3h7M1256.1 307.6h7M1256.1 269.9h7M1256.1 232.2h7M1256.1 194.5h12M1256.1 156.8h7M2360.2 883.61h-8M2360.2 855.3h-12M2360.2 826.99h-8M2360.2 798.68h-8M2360.2 770.37h-8M2360.2 742.06h-8M2360.2 713.75h-12M2360.2 685.44h-8M2360.2 657.13h-8M2360.2 628.82h-8M2360.2 600.51h-8M2360.2 572.2h-12M2360.2 543.89h-8M2360.2 515.58h-8M2360.2 487.27h-8M2360.2 458.96h-8M2360.2 430.65h-12M2360.2 402.34h-8M2360.2 374.03h-8M2360.2 345.72h-8M2360.2 317.41h-8M2360.2 289.1h-12M2360.2 260.79h-8M2360.2 232.48h-8M2360.2 204.17h-8M2360.2 175.86h-8M2360.2 147.55h-12" stroke="#000" stroke-width="2.5" fill="none"/>
<path d="M151.4 1662.64h7M151.4 1625.01h7M151.4 1587.38h7M151.4 1549.75h12M151.4 1512.12h7M151.4 1474.49h7M151.4 1436.86h7M151.4 1399.23h7M151.4 1361.6h12M151.4 1323.97h7M151.4 1286.34h7M151.4 1248.71h7M151.4 1211.08h7M151.4 1173.45h12M151.4 1135.82h7M151.4 1098.19h7M151.4 1060.56h7M151.4 1022.93h7M151.4 985.3h12M151.4 947.67h7M1256.1 1672.96h-8M1256.1 1644.7h-12M1256.1 1616.44h-8M1256.1 1588.18h-8M1256.1 1559.92h-8M1256.1 1531.66h-8M1256.1 1503.4h-12M1256.1 1475.14h-8M1256.1 1446.88h-8M1256.1 1418.62h-8M1256.1 1390.36h-8M1256.1 1362.1h-12M1256.1 1333.84h-8M1256.1 1305.58h-8M1256.1 1277.32h-8M1256.1 1249.06h-8M1256.1 1220.8h-12M1256.1 1192.54h-8M1256.1 1164.28h-8M1256.1 1136.02h-8M1256.1 1107.76h-8M1256.1 1079.5h-12M1256.1 1051.24h-8M1256.1 1022.98h-8M1256.1 994.72h-8M1256.1 966.46h-8M1256.1 938.2h-12" stroke="#000" stroke-width="2.5" fill="none"/>
<path d="M1256.1 1664.72h7M1256.1 1626.98h7M1256.1 1589.24h7M1256.1 1551.5h12M1256.1 1513.76h7M1256.1 1476.02h7M1256.1 1438.28h7M1256.1 1400.54h7M1256.1 1362.8h12M1256.1 1325.06h7M1256.1 1287.32h7M1256.1 1249.58h7M1256.1 1211.84h7M1256.1 1174.1h12M1256.1 1136.36h7M1256.1 1098.62h7M1256.1 1060.88h7M1256.1 1023.14h7M1256.1 985.4h12M1256.1 947.66h7M2360.2 1674.38h-8M2360.2 1646.1h-12M2360.2 1617.82h-8M2360.2 1589.54h-8M2360.2 1561.26h-8M2360.2 1532.98h-8M2360.2 1504.7h-12M2360.2 1476.42h-8M2360.2 1448.14h-8M2360.2 1419.86h-8M2360.2 1391.58h-8M2360.2 1363.3h-12M2360.2 1335.02h-8M2360.2 1306.74h-8M2360.2 1278.46h-8M2360.2 1250.18h-8M2360.2 1221.9h-12M2360.2 1193.62h-8M2360.2 1165.34h-8M2360.2 1137.06h-8M2360.2 1108.78h-8M2360.2 1080.5h-12M2360.2 1052.22h-8M2360.2 1023.94h-8M2360.2 995.66h-8M2360.2 967.38h-8M2360.2 939.1h-12" stroke="#000" stroke-width="2.5" fill="none"/>
<g fill="none" stroke="#000" stroke-width="2.5" stroke-linejoin="round" stroke-linecap="square"><path d="M1256.1 119.1H151.4V1701.5H1256.1"/><path d="M1256.1 119.6H2360.2V1702.9H1256.1"/><path d="M1256.1 119.1V1702.9"/><path d="M151.4 910.6H1256.1"/></g>
<path d="M1256.1 910.9H2360.2" stroke="#333" stroke-width="2.1" fill="none"/>
<g><rect x="333.92" y="117.5" width="3.2" height="3.2" fill="#d8d8d8"/><rect x="518.03" y="117.5" width="3.2" height="3.2" fill="#d8d8d8"/><rect x="702.15" y="117.5" width="3.2" height="3.2" fill="#d8d8d8"/><rect x="886.27" y="117.5" width="3.2" height="3.2" fill="#d8d8d8"/><rect x="1070.38" y="117.5" width="3.2" height="3.2" fill="#d8d8d8"/><rect x="1438.52" y="118" width="3.2" height="3.2" fill="#d8d8d8"/><rect x="1622.53" y="118" width="3.2" height="3.2" fill="#d8d8d8"/><rect x="1806.55" y="118" width="3.2" height="3.2" fill="#d8d8d8"/><rect x="1990.57" y="118" width="3.2" height="3.2" fill="#d8d8d8"/><rect x="2174.58" y="118" width="3.2" height="3.2" fill="#d8d8d8"/><rect x="333.92" y="1699.9" width="3.2" height="3.2" fill="#d8d8d8"/><rect x="518.03" y="1699.9" width="3.2" height="3.2" fill="#d8d8d8"/><rect x="702.15" y="1699.9" width="3.2" height="3.2" fill="#d8d8d8"/><rect x="886.27" y="1699.9" width="3.2" height="3.2" fill="#d8d8d8"/><rect x="1070.38" y="1699.9" width="3.2" height="3.2" fill="#d8d8d8"/><rect x="1438.52" y="1701.3" width="3.2" height="3.2" fill="#d8d8d8"/><rect x="1622.53" y="1701.3" width="3.2" height="3.2" fill="#d8d8d8"/><rect x="1806.55" y="1701.3" width="3.2" height="3.2" fill="#d8d8d8"/><rect x="1990.57" y="1701.3" width="3.2" height="3.2" fill="#d8d8d8"/><rect x="2174.58" y="1701.3" width="3.2" height="3.2" fill="#d8d8d8"/></g>
<rect x="1061.2" y="695.4" width="176.8" height="201.8" rx="2" fill="#fff" stroke="#000" stroke-width="2.4"/>
<rect x="1084.2" y="724.2" width="55.8" height="21.2" fill="#414141" stroke="#000" stroke-width="2.4"/>
<rect x="1086.6" y="726.6" width="51" height="16.4" fill="none" stroke="#4d4d4d" stroke-width="1.1"/>
<rect x="1084.2" y="756.6" width="55.8" height="21.2" fill="#d0d0d0" stroke="#000" stroke-width="2.4"/>
<rect x="1086.6" y="759" width="51" height="16.4" fill="none" stroke="#ececec" stroke-width="1.1"/>
<rect x="1084.2" y="789" width="55.8" height="21.2" fill="#878787" stroke="#000" stroke-width="2.4"/>
<rect x="1086.6" y="791.4" width="51" height="16.4" fill="none" stroke="#9a9a9a" stroke-width="1.1"/>
<rect x="1084.2" y="821.4" width="55.8" height="21.2" fill="#e6e6e6" stroke="#000" stroke-width="2.4"/>
<rect x="1086.6" y="823.8" width="51" height="16.4" fill="none" stroke="#f6f6f6" stroke-width="1.1"/>
<rect x="1084.2" y="853.8" width="55.8" height="21.2" fill="#727272" stroke="#000" stroke-width="2.4"/>
<rect x="1086.6" y="856.2" width="51" height="16.4" fill="none" stroke="#838383" stroke-width="1.1"/>
<g fill="#000" stroke="#000" stroke-width="0.35">
<text x="1153.5" y="740.2" font-size="24.6" text-anchor="start" font-weight="normal" >30 s</text>
<text x="1153.5" y="772.6" font-size="24.6" text-anchor="start" font-weight="normal" >60 s</text>
<text x="1153.5" y="805" font-size="24.6" text-anchor="start" font-weight="normal" >150 s</text>
<text x="1153.5" y="837.4" font-size="24.6" text-anchor="start" font-weight="normal" >300 s</text>
<text x="1153.5" y="869.8" font-size="24.6" text-anchor="start" font-weight="normal" >600 s</text>
</g>
<g fill="#000" stroke="#000" stroke-width="0.4">
<text x="703.3" y="33.5" font-size="37.5" text-anchor="middle" font-weight="normal" >target pressure [MPa]</text>
<text x="703.3" y="1812.4" font-size="37.5" text-anchor="middle" font-weight="normal" >target pressure [MPa]</text>
<text x="1808" y="33.5" font-size="37.5" text-anchor="middle" font-weight="normal" >target pressure [MPa]</text>
<text x="1808" y="1812.4" font-size="37.5" text-anchor="middle" font-weight="normal" >target pressure [MPa]</text>
<text x="243.46" y="103.8" font-size="30.8" text-anchor="middle" font-weight="normal" >300 MPa</text>
<text x="427.57" y="103.8" font-size="30.8" text-anchor="middle" font-weight="normal" >450 MPa</text>
<text x="611.69" y="103.8" font-size="30.8" text-anchor="middle" font-weight="normal" >600 MPa</text>
<text x="795.81" y="103.8" font-size="30.8" text-anchor="middle" font-weight="normal" >750 MPa</text>
<text x="979.92" y="103.8" font-size="30.8" text-anchor="middle" font-weight="normal" >900 MPa</text>
<text x="1164.04" y="103.8" font-size="30.8" text-anchor="middle" font-weight="normal" >1200 MPa</text>
<text x="1348.11" y="103.9" font-size="30.8" text-anchor="middle" font-weight="normal" >300 MPa</text>
<text x="1532.12" y="103.9" font-size="30.8" text-anchor="middle" font-weight="normal" >450 MPa</text>
<text x="1716.14" y="103.9" font-size="30.8" text-anchor="middle" font-weight="normal" >600 MPa</text>
<text x="1900.16" y="103.9" font-size="30.8" text-anchor="middle" font-weight="normal" >750 MPa</text>
<text x="2084.17" y="103.9" font-size="30.8" text-anchor="middle" font-weight="normal" >900 MPa</text>
<text x="2268.19" y="103.9" font-size="30.8" text-anchor="middle" font-weight="normal" >1200 MPa</text>
<text x="243.46" y="1744.4" font-size="30.8" text-anchor="middle" font-weight="normal" >300 MPa</text>
<text x="427.57" y="1744.4" font-size="30.8" text-anchor="middle" font-weight="normal" >450 MPa</text>
<text x="611.69" y="1744.4" font-size="30.8" text-anchor="middle" font-weight="normal" >600 MPa</text>
<text x="795.81" y="1744.4" font-size="30.8" text-anchor="middle" font-weight="normal" >750 MPa</text>
<text x="979.92" y="1744.4" font-size="30.8" text-anchor="middle" font-weight="normal" >900 MPa</text>
<text x="1164.04" y="1744.4" font-size="30.8" text-anchor="middle" font-weight="normal" >1200 MPa</text>
<text x="1348.11" y="1744.9" font-size="30.8" text-anchor="middle" font-weight="normal" >300 MPa</text>
<text x="1532.12" y="1744.9" font-size="30.8" text-anchor="middle" font-weight="normal" >450 MPa</text>
<text x="1716.14" y="1744.9" font-size="30.8" text-anchor="middle" font-weight="normal" >600 MPa</text>
<text x="1900.16" y="1744.9" font-size="30.8" text-anchor="middle" font-weight="normal" >750 MPa</text>
<text x="2084.17" y="1744.9" font-size="30.8" text-anchor="middle" font-weight="normal" >900 MPa</text>
<text x="2268.19" y="1744.9" font-size="30.8" text-anchor="middle" font-weight="normal" >1200 MPa</text>
<text x="135.8" y="205.1" font-size="32" text-anchor="end" font-weight="normal" >1.0</text>
<text x="135.8" y="393.25" font-size="32" text-anchor="end" font-weight="normal" >0.5</text>
<text x="135.8" y="581.4" font-size="32" text-anchor="end" font-weight="normal" >0.0</text>
<text x="135.8" y="769.55" font-size="32" text-anchor="end" font-weight="normal" >-0.5</text>
<text x="135.8" y="996.3" font-size="32" text-anchor="end" font-weight="normal" >1.0</text>
<text x="135.8" y="1184.45" font-size="32" text-anchor="end" font-weight="normal" >0.5</text>
<text x="135.8" y="1372.6" font-size="32" text-anchor="end" font-weight="normal" >0.0</text>
<text x="135.8" y="1560.75" font-size="32" text-anchor="end" font-weight="normal" >-0.5</text>
<text x="2384.8" y="157.75" font-size="32" text-anchor="start" font-weight="normal" >75</text>
<text x="2384.8" y="299.3" font-size="32" text-anchor="start" font-weight="normal" >50</text>
<text x="2384.8" y="440.85" font-size="32" text-anchor="start" font-weight="normal" >25</text>
<text x="2384.8" y="582.4" font-size="32" text-anchor="start" font-weight="normal" >0</text>
<text x="2374" y="723.95" font-size="32" text-anchor="start" font-weight="normal" >-25</text>
<text x="2374" y="865.5" font-size="32" text-anchor="start" font-weight="normal" >-50</text>
<text x="2384.8" y="949.3" font-size="32" text-anchor="start" font-weight="normal" >75</text>
<text x="2384.8" y="1090.7" font-size="32" text-anchor="start" font-weight="normal" >50</text>
<text x="2384.8" y="1232.1" font-size="32" text-anchor="start" font-weight="normal" >25</text>
<text x="2384.8" y="1373.5" font-size="32" text-anchor="start" font-weight="normal" >0</text>
<text x="2374" y="1514.9" font-size="32" text-anchor="start" font-weight="normal" >-25</text>
<text x="2374" y="1656.3" font-size="32" text-anchor="start" font-weight="normal" >-50</text>
<text x="170.4" y="169.6" font-size="43.6" text-anchor="start" font-weight="bold" >A</text>
<text x="1273.6" y="169.6" font-size="43.6" text-anchor="start" font-weight="bold" >B</text>
<text x="170.3" y="960.4" font-size="43.6" text-anchor="start" font-weight="bold" >C</text>
<text x="1273.6" y="960.7" font-size="43.6" text-anchor="start" font-weight="bold" >D</text>
<text x="1240.7" y="177" font-size="43.5" text-anchor="end" font-weight="normal" >30 °C</text>
<text x="2343" y="177" font-size="43.5" text-anchor="end" font-weight="normal" >45 °C</text>
<text x="1240.7" y="968.3" font-size="43.5" text-anchor="end" font-weight="normal" >60 °C</text>
<text x="2343" y="968.3" font-size="43.5" text-anchor="end" font-weight="normal" >75 °C</text>
<text transform="translate(34.2 514.6) rotate(-90)" font-size="37.5" text-anchor="middle">log(N<tspan font-size="24.5" dy="12.5">t</tspan><tspan dy="-12.5">/N</tspan><tspan font-size="24.5" dy="12.5">t+heat</tspan><tspan dy="-12.5">)</tspan></text>
<text transform="translate(34.2 1305.4) rotate(-90)" font-size="37.5" text-anchor="middle">log(N<tspan font-size="24.5" dy="12.5">t</tspan><tspan dy="-12.5">/N</tspan><tspan font-size="24.5" dy="12.5">t+heat</tspan><tspan dy="-12.5">)</tspan></text>
<text transform="translate(2481.8 515.1) rotate(-90)" font-size="37.4" text-anchor="middle">heat susceptible / surviving spores [%]</text>
<text transform="translate(2481.8 1305.5) rotate(-90)" font-size="37.4" text-anchor="middle">heat susceptible / surviving spores [%]</text>
</g>
</svg>
</body></html>
